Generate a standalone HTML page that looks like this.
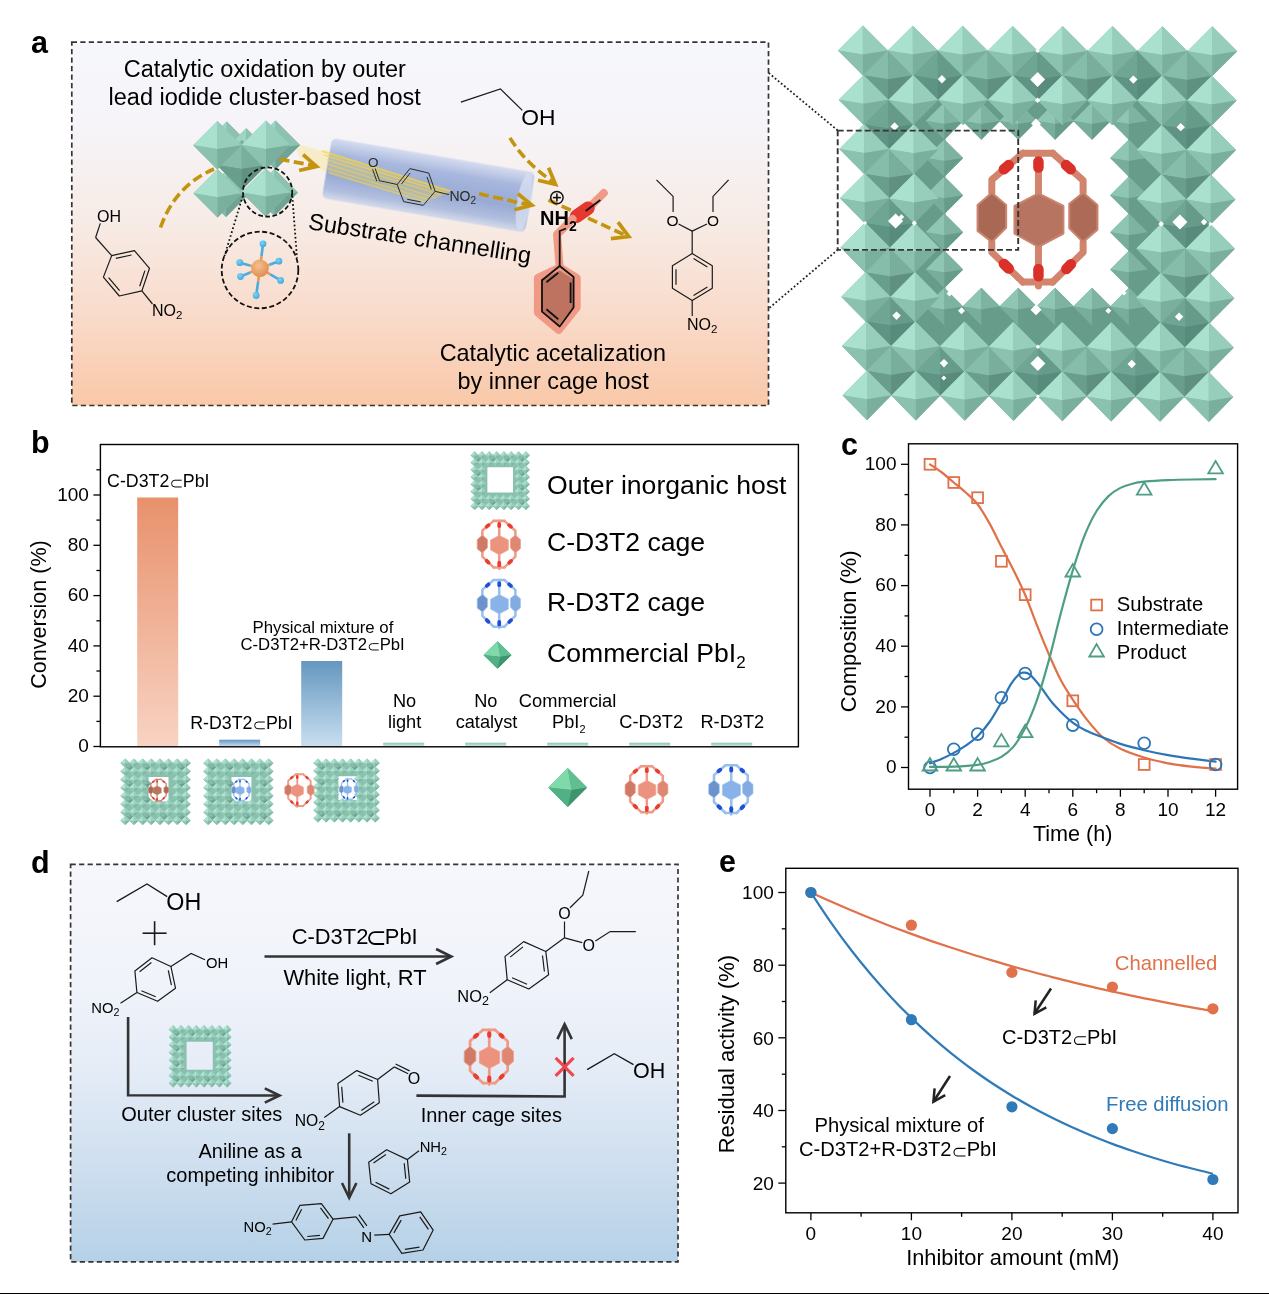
<!DOCTYPE html>
<html><head><meta charset="utf-8"><title>Figure</title>
<style>
html,body{margin:0;padding:0;background:#fff;}
body{width:1269px;height:1294px;overflow:hidden;font-family:"Liberation Sans",sans-serif;}
svg{display:block;will-change:transform;opacity:0.9999;}
svg text{font-family:"Liberation Sans",sans-serif;}
</style></head><body>
<svg width="1269" height="1294" viewBox="0 0 1269 1294">
<defs>
<linearGradient id="gA" x1="0" y1="0" x2="0" y2="1">
<stop offset="0" stop-color="#f6f7fc"/><stop offset="0.24" stop-color="#f6f4f8"/><stop offset="0.5" stop-color="#f7ebe5"/><stop offset="0.75" stop-color="#f9dbcb"/><stop offset="1" stop-color="#f9c8a8"/></linearGradient>
<linearGradient id="gCyl" x1="0" y1="0" x2="0" y2="1">
<stop offset="0" stop-color="#cfd8ee" stop-opacity="0.85"/><stop offset="0.25" stop-color="#a3b4dc" stop-opacity="0.95"/><stop offset="0.6" stop-color="#93a6d3" stop-opacity="0.95"/><stop offset="0.85" stop-color="#a9b9dd" stop-opacity="0.9"/><stop offset="1" stop-color="#cdd6ec" stop-opacity="0.8"/></linearGradient>
<radialGradient id="gPb" cx="0.4" cy="0.35" r="0.7"><stop offset="0" stop-color="#f6c08e"/><stop offset="1" stop-color="#dc8c4e"/></radialGradient>
<radialGradient id="gI" cx="0.4" cy="0.35" r="0.7"><stop offset="0" stop-color="#7fd3f4"/><stop offset="1" stop-color="#3aa6dc"/></radialGradient>
<filter id="blur2" x="-10%" y="-10%" width="120%" height="120%"><feGaussianBlur stdDeviation="1.6"/></filter>
<filter id="blur1" x="-10%" y="-10%" width="120%" height="120%"><feGaussianBlur stdDeviation="0.7"/></filter>

<g id="oc0"><polygon points="0,-1 1,0 0,1 -1,0" fill="#82b8a5"/><polygon points="0,-1 -1,0 0,0.16" fill="#9fd6c3"/><polygon points="0,-1 1,0 0,0.16" fill="#8cc2af"/><polygon points="0,1 -1,0 0,0.16" fill="#82b8a5"/><polygon points="0,1 1,0 0,0.16" fill="#70a492"/></g>
<g id="oc1"><polygon points="0,-1 1,0 0,1 -1,0" fill="#6a9e8c"/><polygon points="0,-1 -1,0 0,0.16" fill="#86bcaa"/><polygon points="0,-1 1,0 0,0.16" fill="#79ae9c"/><polygon points="0,1 -1,0 0,0.16" fill="#6a9e8c"/><polygon points="0,1 1,0 0,0.16" fill="#5f9080"/></g>
<g id="oc2"><polygon points="0,-1 1,0 0,1 -1,0" fill="#8bc1af"/><polygon points="0,-1 -1,0 0,0.16" fill="#aae1ce"/><polygon points="0,-1 1,0 0,0.16" fill="#97cdbb"/><polygon points="0,1 -1,0 0,0.16" fill="#8bc1af"/><polygon points="0,1 1,0 0,0.16" fill="#7aae9d"/></g>
<g id="oc3"><polygon points="0,-1 1,0 0,1 -1,0" fill="#77ad9a"/><polygon points="0,-1 -1,0 0,0.16" fill="#8fc6b3"/><polygon points="0,-1 1,0 0,0.16" fill="#7db3a0"/><polygon points="0,1 -1,0 0,0.16" fill="#77ad9a"/><polygon points="0,1 1,0 0,0.16" fill="#679b8a"/></g>
<g id="oc4"><polygon points="0,-1 1,0 0,1 -1,0" fill="#5f9383"/><polygon points="0,-1 -1,0 0,0.16" fill="#6fa593"/><polygon points="0,-1 1,0 0,0.16" fill="#669b8a"/><polygon points="0,1 -1,0 0,0.16" fill="#5f9383"/><polygon points="0,1 1,0 0,0.16" fill="#588b7b"/></g>
<linearGradient id="gB1" x1="0" y1="0" x2="0" y2="1"><stop offset="0" stop-color="#e8916c"/><stop offset="1" stop-color="#f8d3c3"/></linearGradient>
<linearGradient id="gB2" x1="0" y1="0" x2="0" y2="1"><stop offset="0" stop-color="#6597c0"/><stop offset="1" stop-color="#c9dff0"/></linearGradient>
<linearGradient id="gB3" x1="0" y1="0" x2="0" y2="1"><stop offset="0" stop-color="#8ec5b3"/><stop offset="1" stop-color="#cfe8df"/></linearGradient>

<g id="oc5"><polygon points="0,-1 1,0 0,1 -1,0" fill="#76ab99"/><polygon points="0,-1 -1,0 0,0.16" fill="#88bfac"/><polygon points="0,-1 1,0 0,0.16" fill="#7bb19f"/><polygon points="0,1 -1,0 0,0.16" fill="#76ab99"/><polygon points="0,1 1,0 0,0.16" fill="#6a9d8b"/></g>
<g id="oc6"><polygon points="0,-1 1,0 0,1 -1,0" fill="#92c8b6"/><polygon points="0,-1 -1,0 0,0.16" fill="#aee3d1"/><polygon points="0,-1 1,0 0,0.16" fill="#9bd0be"/><polygon points="0,1 -1,0 0,0.16" fill="#92c8b6"/><polygon points="0,1 1,0 0,0.16" fill="#80b6a4"/></g>
<linearGradient id="gD" x1="0" y1="0" x2="0" y2="1">
<stop offset="0" stop-color="#f6f7fc"/><stop offset="0.3" stop-color="#f0f3fa"/><stop offset="0.5" stop-color="#e6edf7"/><stop offset="0.75" stop-color="#cfdfef"/><stop offset="1" stop-color="#b5d1e7"/></linearGradient>
</defs>
<rect x="0" y="0" width="1269" height="1294" fill="#fff"/>
<text x="31.0" y="53.0" font-size="30.5" text-anchor="start" font-weight="bold" fill="#000" >a</text>
<rect x="71.8" y="42.2" width="696.7" height="363.3" fill="url(#gA)"/>
<rect x="71.8" y="42.2" width="696.7" height="363.3" fill="none" stroke="#383434" stroke-width="1.7" stroke-dasharray="5.2,3.3"/>
<text x="264.8" y="77.0" font-size="23.5" text-anchor="middle" font-weight="normal" fill="#000" >Catalytic oxidation by outer</text>
<text x="264.7" y="105.0" font-size="23.5" text-anchor="middle" font-weight="normal" fill="#000" >lead iodide cluster-based host</text>
<text x="552.8" y="361.3" font-size="23.4" text-anchor="middle" font-weight="normal" fill="#000" >Catalytic acetalization</text>
<text x="553.2" y="389.0" font-size="23.4" text-anchor="middle" font-weight="normal" fill="#000" >by inner cage host</text>
<path d="M160.5,227.5 C170,200 188,180 214,169" stroke="#c4940f" stroke-width="3.6" fill="none" stroke-dasharray="10,4.5"/>
<polygon points="294.0,143.0 340.0,156.0 333.0,176.0 300.0,158.0" fill="#f8e27a" stroke="none" stroke-width="0" opacity="0.35"/>
<use href="#oc0" transform="translate(226.7,145.5) scale(24.00,24.00)"/>
<use href="#oc0" transform="translate(275.5,145.0) scale(24.50,24.50)"/>
<use href="#oc0" transform="translate(226.0,194.0) scale(23.00,23.00)"/>
<use href="#oc0" transform="translate(274.5,192.5) scale(23.50,23.50)"/>
<use href="#oc0" transform="translate(246.2,152.0) scale(23.70,23.70)"/>
<use href="#oc1" transform="translate(241.8,165.0) scale(25.00,25.00)"/>
<use href="#oc2" transform="translate(217.4,145.2) scale(24.20,24.20)"/>
<use href="#oc2" transform="translate(266.0,145.0) scale(24.50,24.50)"/>
<use href="#oc2" transform="translate(217.6,193.3) scale(24.20,24.20)"/>
<use href="#oc2" transform="translate(265.8,192.5) scale(24.30,24.30)"/>
<g transform="translate(427,185.1) rotate(9.66)">
<rect x="-101.5" y="-30.5" width="206" height="61" rx="5" fill="url(#gCyl)" filter="url(#blur1)"/>
<ellipse cx="98.5" cy="0" rx="7" ry="29" fill="#d6def0" opacity="0.8" filter="url(#blur1)"/>
</g>
<polygon points="330.0,152.5 450.0,190.5 447.0,194.0 424.0,202.5 328.0,174.0" fill="#f6d848" stroke="none" stroke-width="0" opacity="0.28"/>
<g opacity="0.62">
<line x1="322.0" y1="151.0" x2="450.0" y2="191.0" stroke="#f7d53c" stroke-width="2.0" />
<line x1="324.0" y1="155.0" x2="446.0" y2="193.0" stroke="#f7d53c" stroke-width="1.5" />
<line x1="326.0" y1="159.5" x2="441.0" y2="195.0" stroke="#f7d53c" stroke-width="1.2" />
<line x1="327.0" y1="164.0" x2="436.0" y2="198.0" stroke="#f7d53c" stroke-width="1.2" />
<line x1="328.0" y1="168.5" x2="430.0" y2="200.0" stroke="#f7d53c" stroke-width="1.0" />
<line x1="329.0" y1="172.5" x2="424.0" y2="201.5" stroke="#f7d53c" stroke-width="1.0" />
</g>
<circle cx="267.6" cy="192" r="24.6" fill="none" stroke="#111" stroke-width="1.8" stroke-dasharray="4.6,2.6"/>
<line x1="242.8" y1="196.0" x2="224.5" y2="256.0" stroke="#111" stroke-width="1.8" stroke-dasharray="1.7,2.4"/>
<line x1="292.3" y1="196.0" x2="297.0" y2="258.0" stroke="#111" stroke-width="1.8" stroke-dasharray="1.7,2.4"/>
<circle cx="260" cy="270" r="38.3" fill="none" stroke="#111" stroke-width="1.8" stroke-dasharray="5,2.6"/>
<line x1="260.0" y1="268.3" x2="261.5" y2="256.1" stroke="#e29a5e" stroke-width="2.6" />
<line x1="261.5" y1="256.1" x2="263.0" y2="243.8" stroke="#46ade0" stroke-width="2.6" />
<circle cx="263" cy="243.8" r="3.4" fill="url(#gI)"/>
<line x1="260.0" y1="268.3" x2="249.9" y2="265.5" stroke="#e29a5e" stroke-width="2.6" />
<line x1="249.9" y1="265.5" x2="239.8" y2="262.7" stroke="#46ade0" stroke-width="2.6" />
<circle cx="239.8" cy="262.7" r="3.4" fill="url(#gI)"/>
<line x1="260.0" y1="268.3" x2="269.4" y2="264.8" stroke="#e29a5e" stroke-width="2.6" />
<line x1="269.4" y1="264.8" x2="278.9" y2="261.2" stroke="#46ade0" stroke-width="2.6" />
<circle cx="278.9" cy="261.2" r="3.4" fill="url(#gI)"/>
<line x1="260.0" y1="268.3" x2="250.2" y2="272.5" stroke="#e29a5e" stroke-width="2.6" />
<line x1="250.2" y1="272.5" x2="240.5" y2="276.6" stroke="#46ade0" stroke-width="2.6" />
<circle cx="240.5" cy="276.6" r="3.4" fill="url(#gI)"/>
<line x1="260.0" y1="268.3" x2="270.3" y2="274.4" stroke="#e29a5e" stroke-width="2.6" />
<line x1="270.3" y1="274.4" x2="280.6" y2="280.4" stroke="#46ade0" stroke-width="2.6" />
<circle cx="280.6" cy="280.4" r="3.4" fill="url(#gI)"/>
<line x1="260.0" y1="268.3" x2="258.1" y2="281.9" stroke="#e29a5e" stroke-width="2.6" />
<line x1="258.1" y1="281.9" x2="256.2" y2="295.5" stroke="#46ade0" stroke-width="2.6" />
<circle cx="256.2" cy="295.5" r="3.4" fill="url(#gI)"/>
<circle cx="260" cy="268.3" r="8.8" fill="url(#gPb)"/>
<path d="M279.5,159.3 L314,165.5" stroke="#c4940f" stroke-width="3.6" fill="none" stroke-dasharray="10,4.5"/>
<path d="M299.1,170.5 L316.6,166.4 L303.1,154.6" stroke="#c4940f" stroke-width="3.7" fill="none" stroke-linejoin="miter" stroke-miterlimit="10" stroke-linecap="butt"/>
<path d="M479,193.8 L530,205" stroke="#c4940f" stroke-width="3.6" fill="none" stroke-dasharray="10,4.5"/>
<path d="M514.5,209.7 L531.9,205.1 L517.9,193.7" stroke="#c4940f" stroke-width="3.7" fill="none" stroke-linejoin="miter" stroke-miterlimit="10" stroke-linecap="butt"/>
<path d="M510,137.8 C522,158 538,171 554.5,183.5" stroke="#c4940f" stroke-width="3.6" fill="none" stroke-dasharray="10,4.5"/>
<path d="M538.0,180.2 L555.5,184.4 L548.6,167.7" stroke="#c4940f" stroke-width="3.7" fill="none" stroke-linejoin="miter" stroke-miterlimit="10" stroke-linecap="butt"/>
<path d="M548.5,200 L626.5,235.8" stroke="#c4940f" stroke-width="3.6" fill="none" stroke-dasharray="10,4.5"/>
<path d="M610.9,238.7 L628.8,236.6 L618.0,222.2" stroke="#c4940f" stroke-width="3.7" fill="none" stroke-linejoin="miter" stroke-miterlimit="10" stroke-linecap="butt"/>
<text x="97.0" y="221.6" font-size="16" text-anchor="start" font-weight="normal" fill="#000" >OH</text>
<line x1="100.3" y1="223.4" x2="95.6" y2="237.5" stroke="#1a1a1a" stroke-width="1.2" />
<line x1="95.6" y1="237.5" x2="111.7" y2="255.6" stroke="#1a1a1a" stroke-width="1.2" />
<path d="M111.7,255.6 L134.4,250.6 L149.5,268.3 L141.9,290.9 L119.3,296.0 L103.4,277.1 Z" stroke="#1a1a1a" stroke-width="1.2" fill="none" stroke-linejoin="round"/>
<line x1="115.9" y1="258.4" x2="131.5" y2="255.0" stroke="#1a1a1a" stroke-width="1.2" />
<line x1="144.9" y1="270.6" x2="139.7" y2="286.2" stroke="#1a1a1a" stroke-width="1.2" />
<line x1="119.6" y1="290.6" x2="108.6" y2="277.6" stroke="#1a1a1a" stroke-width="1.2" />
<line x1="141.9" y1="290.9" x2="152.5" y2="304.0" stroke="#1a1a1a" stroke-width="1.2" />
<text x="152.0" y="315.7" font-size="16" text-anchor="start" font-weight="normal" fill="#000" >NO<tspan dy="3.2" font-size="11.5">2</tspan><tspan dy="-3.2" font-size="16">&#8203;</tspan></text>
<text x="373.3" y="166.5" font-size="13.5" text-anchor="middle" font-weight="normal" fill="#2a2a20" >O</text>
<line x1="375.2" y1="168.6" x2="379.4" y2="180.4" stroke="#2a2a20" stroke-width="1.0" />
<line x1="372.6" y1="169.4" x2="376.8" y2="181.2" stroke="#2a2a20" stroke-width="1.0" />
<line x1="378.8" y1="180.6" x2="397.2" y2="184.5" stroke="#2a2a20" stroke-width="1.0" />
<path d="M397.2,184.5 L409.9,168.6 L428.8,173.1 L435.1,191.3 L423.2,205.4 L403.6,201.6 Z" stroke="#2a2a20" stroke-width="1.0" fill="none" stroke-linejoin="round"/>
<line x1="401.5" y1="184.0" x2="410.2" y2="173.0" stroke="#2a2a20" stroke-width="1.0" />
<line x1="427.0" y1="176.9" x2="431.3" y2="189.4" stroke="#2a2a20" stroke-width="1.0" />
<line x1="420.7" y1="201.9" x2="407.2" y2="199.3" stroke="#2a2a20" stroke-width="1.0" />
<line x1="435.1" y1="191.3" x2="448.9" y2="194.6" stroke="#2a2a20" stroke-width="1.0" />
<text x="449.4" y="201.0" font-size="14" text-anchor="start" font-weight="normal" fill="#2a2a20" >NO<tspan dy="2.8" font-size="10.1">2</tspan><tspan dy="-2.8" font-size="14">&#8203;</tspan></text>
<path d="M460.9,102.1 L500.4,88.9 L522.3,110.4" stroke="#1a1a1a" stroke-width="1.3" fill="none" />
<text x="521.3" y="124.8" font-size="22.8" text-anchor="start" font-weight="normal" fill="#000" >OH</text>
<text transform="translate(307.5,229) rotate(8.8)" font-size="23.4" fill="#000">Substrate channelling</text>
<path d="M603.8,193 L589.9,206.8" stroke="#f09a86" stroke-width="8" fill="none" stroke-linecap="round"/>
<path d="M589.9,206.8 L572.6,219" stroke="#f09a86" stroke-width="8" fill="none" stroke-linecap="round"/>
<path d="M588,208.2 L576.5,216.3" stroke="#e5382f" stroke-width="13.5" fill="none" stroke-linecap="round"/>
<path d="M572.6,219 L557,234.6 L559.7,267.5" stroke="#f09a86" stroke-width="8" fill="none" stroke-linecap="round" stroke-linejoin="round"/>
<polygon points="559.7,267.5 576.7,277.9 576.7,307.4 558.7,329.9 537.9,312.6 537.9,277.9" fill="#bf7460" stroke="#f09a86" stroke-width="8" stroke-linejoin="round"/>
<polygon points="559.7,270.5 573.8,279.5 573.8,306.5 558.7,325.5 541.0,311.0 541.0,279.5" fill="#bd735f" stroke="none" stroke-width="0" />
<path d="M559.7,266.0 L573.6,277.0 L573.6,307.5 L559.7,326.5 L542.0,311.6 L542.0,280.3 Z" stroke="#111" stroke-width="1.8" fill="none" stroke-linejoin="round"/>
<line x1="570.6" y1="282.5" x2="570.6" y2="303.0" stroke="#111" stroke-width="1.8" />
<line x1="558.3" y1="319.2" x2="546.4" y2="309.2" stroke="#111" stroke-width="1.8" />
<line x1="546.4" y1="282.3" x2="558.3" y2="272.7" stroke="#111" stroke-width="1.8" />
<path d="M559.7,266 L559.7,231 L566,228.5" stroke="#111" stroke-width="1.8" fill="none" />
<line x1="585.7" y1="211.0" x2="600.3" y2="200.0" stroke="#111" stroke-width="1.8" />
<circle cx="556.9" cy="197.6" r="6.2" fill="none" stroke="#111" stroke-width="1.5"/>
<line x1="552.9" y1="197.6" x2="560.9" y2="197.6" stroke="#111" stroke-width="1.6" />
<line x1="556.9" y1="193.6" x2="556.9" y2="201.6" stroke="#111" stroke-width="1.6" />
<text x="540.0" y="225.3" font-size="20" text-anchor="start" font-weight="bold" fill="#000" >NH<tspan dy="5.5" font-size="14.0">2</tspan><tspan dy="-5.5" font-size="20">&#8203;</tspan></text>
<path d="M656.5,179.8 L673.1,196.4 L673.1,212" stroke="#1a1a1a" stroke-width="1.2" fill="none" />
<path d="M728.6,179.8 L713,196.4 L713,212" stroke="#1a1a1a" stroke-width="1.2" fill="none" />
<text x="672.6" y="225.6" font-size="15.5" text-anchor="middle" font-weight="normal" fill="#000" >O</text>
<text x="713.0" y="225.6" font-size="15.5" text-anchor="middle" font-weight="normal" fill="#000" >O</text>
<line x1="678.5" y1="224.0" x2="692.2" y2="231.1" stroke="#1a1a1a" stroke-width="1.2" />
<line x1="707.0" y1="224.0" x2="692.2" y2="231.1" stroke="#1a1a1a" stroke-width="1.2" />
<line x1="692.2" y1="231.1" x2="692.2" y2="253.6" stroke="#1a1a1a" stroke-width="1.2" />
<path d="M692.2,253.6 L712.3,265.8 L712.3,288.3 L692.2,300.5 L672.4,288.3 L672.4,265.8 Z" stroke="#1a1a1a" stroke-width="1.2" fill="none" stroke-linejoin="round"/>
<line x1="693.5" y1="258.6" x2="707.4" y2="267.0" stroke="#1a1a1a" stroke-width="1.2" />
<line x1="707.4" y1="287.1" x2="693.5" y2="295.5" stroke="#1a1a1a" stroke-width="1.2" />
<line x1="676.0" y1="284.8" x2="676.0" y2="269.3" stroke="#1a1a1a" stroke-width="1.2" />
<line x1="692.2" y1="300.5" x2="692.2" y2="316.0" stroke="#1a1a1a" stroke-width="1.2" />
<text x="687.0" y="330.0" font-size="16" text-anchor="start" font-weight="normal" fill="#000" >NO<tspan dy="3.2" font-size="11.5">2</tspan><tspan dy="-3.2" font-size="16">&#8203;</tspan></text>
<line x1="768.7" y1="73.0" x2="837.5" y2="130.2" stroke="#222" stroke-width="1.8" stroke-dasharray="1.8,2.2"/>
<line x1="769.5" y1="307.8" x2="837.5" y2="250.0" stroke="#222" stroke-width="1.8" stroke-dasharray="1.8,2.2"/>
<path d="M885,72 H1191 V375 H885 Z M945.5,122 V306 H1128 V122 Z" fill="#679c8b" fill-rule="evenodd"/>
<use href="#oc3" transform="translate(944.4,121.0) scale(18.70,18.70)"/>
<use href="#oc3" transform="translate(981.3,121.0) scale(18.70,18.70)"/>
<use href="#oc3" transform="translate(1018.2,121.0) scale(18.70,18.70)"/>
<use href="#oc3" transform="translate(1055.1,121.0) scale(18.70,18.70)"/>
<use href="#oc3" transform="translate(1092.0,121.0) scale(18.70,18.70)"/>
<use href="#oc3" transform="translate(1128.9,121.0) scale(18.70,18.70)"/>
<use href="#oc3" transform="translate(944.4,158.1) scale(18.70,18.70)"/>
<use href="#oc3" transform="translate(1128.9,158.1) scale(18.70,18.70)"/>
<use href="#oc3" transform="translate(944.4,195.2) scale(18.70,18.70)"/>
<use href="#oc3" transform="translate(1128.9,195.2) scale(18.70,18.70)"/>
<use href="#oc3" transform="translate(944.4,232.3) scale(18.70,18.70)"/>
<use href="#oc3" transform="translate(1128.9,232.3) scale(18.70,18.70)"/>
<use href="#oc3" transform="translate(944.4,269.4) scale(18.70,18.70)"/>
<use href="#oc3" transform="translate(1128.9,269.4) scale(18.70,18.70)"/>
<use href="#oc3" transform="translate(944.4,306.5) scale(18.70,18.70)"/>
<use href="#oc3" transform="translate(981.3,306.5) scale(18.70,18.70)"/>
<use href="#oc3" transform="translate(1018.2,306.5) scale(18.70,18.70)"/>
<use href="#oc3" transform="translate(1055.1,306.5) scale(18.70,18.70)"/>
<use href="#oc3" transform="translate(1092.0,306.5) scale(18.70,18.70)"/>
<use href="#oc3" transform="translate(1128.9,306.5) scale(18.70,18.70)"/>
<use href="#oc1" transform="translate(888.1,75.2) scale(25.50,25.50)"/>
<use href="#oc4" transform="translate(937.9,75.3) scale(25.50,25.50)"/>
<polygon points="941.9,75.1 946.1,79.2 941.9,83.4 937.8,79.2" fill="#ffffff" stroke="none" stroke-width="0" />
<use href="#oc1" transform="translate(987.8,75.4) scale(25.50,25.50)"/>
<use href="#oc4" transform="translate(1037.6,75.5) scale(25.50,25.50)"/>
<polygon points="1037.6,71.9 1045.1,79.4 1037.6,86.9 1030.1,79.4" fill="#ffffff" stroke="none" stroke-width="0" />
<use href="#oc1" transform="translate(1087.5,75.6) scale(25.50,25.50)"/>
<use href="#oc4" transform="translate(1137.3,75.7) scale(25.50,25.50)"/>
<polygon points="1133.3,75.5 1137.5,79.6 1133.3,83.8 1129.1,79.6" fill="#ffffff" stroke="none" stroke-width="0" />
<use href="#oc1" transform="translate(1187.1,75.8) scale(25.50,25.50)"/>
<use href="#oc4" transform="translate(888.6,124.5) scale(25.50,25.50)"/>
<polygon points="894.6,122.3 898.7,126.4 894.6,130.6 890.4,126.4" fill="#ffffff" stroke="none" stroke-width="0" />
<use href="#oc4" transform="translate(1186.7,125.2) scale(25.50,25.50)"/>
<polygon points="1180.7,123.0 1184.9,127.2 1180.7,131.3 1176.6,127.2" fill="#ffffff" stroke="none" stroke-width="0" />
<use href="#oc1" transform="translate(889.1,173.7) scale(25.50,25.50)"/>
<use href="#oc1" transform="translate(1186.3,174.6) scale(25.50,25.50)"/>
<use href="#oc4" transform="translate(889.6,223.0) scale(25.50,25.50)"/>
<polygon points="895.6,213.5 903.1,221.0 895.6,228.5 888.0,221.0" fill="#ffffff" stroke="none" stroke-width="0" />
<use href="#oc4" transform="translate(1185.9,224.0) scale(25.50,25.50)"/>
<polygon points="1179.9,214.5 1187.4,222.0 1179.9,229.5 1172.4,222.0" fill="#ffffff" stroke="none" stroke-width="0" />
<use href="#oc1" transform="translate(890.1,272.3) scale(25.50,25.50)"/>
<use href="#oc1" transform="translate(1185.4,273.4) scale(25.50,25.50)"/>
<use href="#oc4" transform="translate(890.7,321.5) scale(25.50,25.50)"/>
<polygon points="896.5,311.4 900.8,315.6 896.5,319.9 892.3,315.6" fill="#ffffff" stroke="none" stroke-width="0" />
<use href="#oc4" transform="translate(1185.0,322.8) scale(25.50,25.50)"/>
<polygon points="1179.1,312.6 1183.3,316.8 1179.1,321.0 1174.9,316.8" fill="#ffffff" stroke="none" stroke-width="0" />
<use href="#oc1" transform="translate(891.2,370.8) scale(25.50,25.50)"/>
<use href="#oc4" transform="translate(940.1,371.0) scale(25.50,25.50)"/>
<polygon points="944.0,358.9 948.2,363.1 944.0,367.4 939.7,363.1" fill="#ffffff" stroke="none" stroke-width="0" />
<use href="#oc1" transform="translate(989.0,371.3) scale(25.50,25.50)"/>
<use href="#oc4" transform="translate(1037.9,371.5) scale(25.50,25.50)"/>
<polygon points="1037.9,356.1 1045.4,363.6 1037.9,371.1 1030.4,363.6" fill="#ffffff" stroke="none" stroke-width="0" />
<use href="#oc1" transform="translate(1086.8,371.7) scale(25.50,25.50)"/>
<use href="#oc4" transform="translate(1135.7,372.0) scale(25.50,25.50)"/>
<polygon points="1131.8,359.8 1136.0,364.0 1131.8,368.2 1127.6,364.0" fill="#ffffff" stroke="none" stroke-width="0" />
<use href="#oc1" transform="translate(1184.6,372.2) scale(25.50,25.50)"/>
<use href="#oc2" transform="translate(862.9,50.5) scale(24.90,24.90)"/>
<use href="#oc2" transform="translate(912.8,50.6) scale(24.90,24.90)"/>
<use href="#oc2" transform="translate(962.7,50.7) scale(24.90,24.90)"/>
<use href="#oc2" transform="translate(1012.6,50.8) scale(24.90,24.90)"/>
<use href="#oc2" transform="translate(1062.6,50.9) scale(24.90,24.90)"/>
<use href="#oc2" transform="translate(1112.5,51.0) scale(24.90,24.90)"/>
<use href="#oc2" transform="translate(1162.4,51.1) scale(24.90,24.90)"/>
<use href="#oc2" transform="translate(1212.3,51.2) scale(24.90,24.90)"/>
<use href="#oc2" transform="translate(863.5,99.8) scale(24.84,24.90)"/>
<use href="#oc2" transform="translate(913.2,99.9) scale(24.84,24.90)"/>
<use href="#oc2" transform="translate(963.0,100.0) scale(24.84,24.90)"/>
<use href="#oc2" transform="translate(1012.8,100.1) scale(24.84,24.90)"/>
<use href="#oc2" transform="translate(1062.5,100.2) scale(24.84,24.90)"/>
<use href="#oc2" transform="translate(1112.3,100.4) scale(24.84,24.90)"/>
<use href="#oc2" transform="translate(1162.0,100.5) scale(24.84,24.90)"/>
<use href="#oc2" transform="translate(1211.8,100.6) scale(24.84,24.90)"/>
<use href="#oc2" transform="translate(864.1,149.0) scale(24.78,24.90)"/>
<use href="#oc2" transform="translate(913.7,149.2) scale(24.78,24.90)"/>
<use href="#oc2" transform="translate(1161.7,149.9) scale(24.78,24.90)"/>
<use href="#oc2" transform="translate(1211.3,150.0) scale(24.78,24.90)"/>
<use href="#oc2" transform="translate(864.7,198.3) scale(24.72,24.90)"/>
<use href="#oc2" transform="translate(914.1,198.4) scale(24.72,24.90)"/>
<use href="#oc2" transform="translate(1161.4,199.2) scale(24.72,24.90)"/>
<use href="#oc2" transform="translate(1210.8,199.4) scale(24.72,24.90)"/>
<use href="#oc2" transform="translate(865.2,247.5) scale(24.66,24.90)"/>
<use href="#oc2" transform="translate(914.5,247.7) scale(24.66,24.90)"/>
<use href="#oc2" transform="translate(1161.0,248.6) scale(24.66,24.90)"/>
<use href="#oc2" transform="translate(1210.3,248.8) scale(24.66,24.90)"/>
<use href="#oc2" transform="translate(865.8,296.8) scale(24.60,24.90)"/>
<use href="#oc2" transform="translate(915.0,297.0) scale(24.60,24.90)"/>
<use href="#oc2" transform="translate(1160.7,298.0) scale(24.60,24.90)"/>
<use href="#oc2" transform="translate(1209.8,298.2) scale(24.60,24.90)"/>
<use href="#oc2" transform="translate(866.4,346.1) scale(24.54,24.90)"/>
<use href="#oc2" transform="translate(915.4,346.3) scale(24.54,24.90)"/>
<use href="#oc2" transform="translate(964.4,346.5) scale(24.54,24.90)"/>
<use href="#oc2" transform="translate(1013.4,346.7) scale(24.54,24.90)"/>
<use href="#oc2" transform="translate(1062.3,346.9) scale(24.54,24.90)"/>
<use href="#oc2" transform="translate(1111.3,347.2) scale(24.54,24.90)"/>
<use href="#oc2" transform="translate(1160.3,347.4) scale(24.54,24.90)"/>
<use href="#oc2" transform="translate(1209.3,347.6) scale(24.54,24.90)"/>
<use href="#oc2" transform="translate(867.0,395.3) scale(24.48,24.90)"/>
<use href="#oc2" transform="translate(915.8,395.6) scale(24.48,24.90)"/>
<use href="#oc2" transform="translate(964.7,395.8) scale(24.48,24.90)"/>
<use href="#oc2" transform="translate(1013.5,396.0) scale(24.48,24.90)"/>
<use href="#oc2" transform="translate(1062.3,396.3) scale(24.48,24.90)"/>
<use href="#oc2" transform="translate(1111.1,396.5) scale(24.48,24.90)"/>
<use href="#oc2" transform="translate(1160.0,396.8) scale(24.48,24.90)"/>
<use href="#oc2" transform="translate(1208.8,397.0) scale(24.48,24.90)"/>
<polygon points="1037.6,48.6 1039.8,50.9 1037.6,53.1 1035.4,50.9" fill="#ffffff" stroke="none" stroke-width="0" />
<polygon points="1037.6,97.4 1040.4,100.2 1037.6,103.0 1034.8,100.2" fill="#ffffff" stroke="none" stroke-width="0" />
<polygon points="1037.9,344.6 1040.1,346.8 1037.9,349.0 1035.7,346.8" fill="#ffffff" stroke="none" stroke-width="0" />
<polygon points="1037.9,394.2 1039.9,396.2 1037.9,398.2 1035.9,396.2" fill="#ffffff" stroke="none" stroke-width="0" />
<polygon points="865.0,220.9 867.0,222.9 865.0,224.9 863.0,222.9" fill="#ffffff" stroke="none" stroke-width="0" />
<polygon points="914.3,220.5 916.9,223.1 914.3,225.7 911.7,223.1" fill="#ffffff" stroke="none" stroke-width="0" />
<polygon points="1161.2,221.1 1164.0,223.9 1161.2,226.7 1158.4,223.9" fill="#ffffff" stroke="none" stroke-width="0" />
<polygon points="1210.5,221.9 1212.8,224.1 1210.5,226.3 1208.3,224.1" fill="#ffffff" stroke="none" stroke-width="0" />
<polygon points="1036.0,118.5 1041.0,123.5 1036.0,128.5 1031.0,123.5" fill="#ffffff" stroke="none" stroke-width="0" />
<polygon points="1036.0,304.3 1041.5,309.8 1036.0,315.3 1030.5,309.8" fill="#ffffff" stroke="none" stroke-width="0" />
<polygon points="961.5,307.3 965.0,310.8 961.5,314.3 958.0,310.8" fill="#ffffff" stroke="none" stroke-width="0" />
<polygon points="1108.4,307.8 1111.4,310.8 1108.4,313.8 1105.4,310.8" fill="#ffffff" stroke="none" stroke-width="0" />
<polygon points="949.5,290.5 952.5,293.5 949.5,296.5 946.5,293.5" fill="#ffffff" stroke="none" stroke-width="0" />
<polygon points="1124.0,290.5 1126.5,293.0 1124.0,295.5 1121.5,293.0" fill="#ffffff" stroke="none" stroke-width="0" />
<polygon points="901.4,214.2 904.2,217.0 901.4,219.8 898.6,217.0" fill="#ffffff" stroke="none" stroke-width="0" />
<polygon points="1204.0,218.8 1207.2,222.0 1204.0,225.2 1200.8,222.0" fill="#ffffff" stroke="none" stroke-width="0" />
<polygon points="943.8,375.5 946.3,378.0 943.8,380.5 941.3,378.0" fill="#ffffff" stroke="none" stroke-width="0" />
<path d="M1022.91,153.20 L1052.69,153.20" stroke="#d3846d" stroke-width="6.99" fill="none" stroke-linecap="round" stroke-linejoin="round"/>
<path d="M1022.91,282.06 L1052.69,282.06" stroke="#d3846d" stroke-width="6.99" fill="none" stroke-linecap="round" stroke-linejoin="round"/>
<path d="M1022.91,153.20 L991.82,179.75 L991.82,192.70" stroke="#d3846d" stroke-width="6.99" fill="none" stroke-linecap="round" stroke-linejoin="round"/>
<path d="M1052.69,153.20 L1083.13,180.39 L1083.13,192.70" stroke="#d3846d" stroke-width="6.99" fill="none" stroke-linecap="round" stroke-linejoin="round"/>
<path d="M991.82,241.91 L991.82,252.27 L1022.91,282.06" stroke="#d3846d" stroke-width="6.99" fill="none" stroke-linecap="round" stroke-linejoin="round"/>
<path d="M1083.13,241.91 L1083.13,252.27 L1052.69,282.06" stroke="#d3846d" stroke-width="6.99" fill="none" stroke-linecap="round" stroke-linejoin="round"/>
<path d="M1038.45,153.20 L1038.45,193.34" stroke="#d3846d" stroke-width="6.99" fill="none" stroke-linecap="round" stroke-linejoin="round"/>
<path d="M1038.45,246.83 L1038.45,285.95" stroke="#d3846d" stroke-width="6.99" fill="none" stroke-linecap="round" stroke-linejoin="round"/>
<polygon points="991.8,192.7 1006.1,205.0 1006.1,227.7 991.8,241.9 977.6,230.9 977.6,205.0" fill="#a96853" stroke="#c98470" stroke-width="2.072216216216216" stroke-linejoin="round"/>
<polygon points="1083.1,192.7 1097.4,205.0 1097.4,229.6 1083.1,241.9 1069.3,228.3 1069.3,203.7" fill="#ad6b57" stroke="#c98470" stroke-width="2.072216216216216" stroke-linejoin="round"/>
<polygon points="1038.4,193.3 1063.4,206.0 1063.4,233.5 1038.4,246.8 1014.5,233.5 1014.5,206.0" fill="#b77460" stroke="#c98470" stroke-width="2.072216216216216" stroke-linejoin="round"/>
<line x1="1038.45" y1="161.61" x2="1038.45" y2="167.44" stroke="#d9302a" stroke-width="10.49" stroke-linecap="round"/>
<line x1="1038.45" y1="269.11" x2="1038.45" y2="276.23" stroke="#d9302a" stroke-width="10.49" stroke-linecap="round"/>
<line x1="1003.87" y1="169.26" x2="1008.79" y2="165.11" stroke="#d9302a" stroke-width="10.49" stroke-linecap="round"/>
<line x1="1066.03" y1="165.11" x2="1070.70" y2="169.26" stroke="#d9302a" stroke-width="10.49" stroke-linecap="round"/>
<line x1="1003.87" y1="263.93" x2="1008.79" y2="268.59" stroke="#d9302a" stroke-width="10.49" stroke-linecap="round"/>
<line x1="1066.29" y1="269.11" x2="1070.96" y2="264.19" stroke="#d9302a" stroke-width="10.49" stroke-linecap="round"/>
<rect x="837.7" y="130.6" width="180.5" height="119.3" fill="none" stroke="#383434" stroke-width="1.9" stroke-dasharray="6,3"/>
<text x="31.0" y="453.0" font-size="30.5" text-anchor="start" font-weight="bold" fill="#000" >b</text>
<rect x="137.2" y="497.5" width="41" height="249.0" fill="url(#gB1)"/>
<rect x="219.2" y="739.7" width="41" height="6.8" fill="url(#gB2)"/>
<rect x="301.2" y="661.0" width="41" height="85.5" fill="url(#gB2)"/>
<rect x="383.2" y="742.7" width="41" height="3.8" fill="url(#gB3)"/>
<rect x="465.2" y="742.7" width="41" height="3.8" fill="url(#gB3)"/>
<rect x="547.2" y="742.7" width="41" height="3.8" fill="url(#gB3)"/>
<rect x="629.2" y="742.7" width="41" height="3.8" fill="url(#gB3)"/>
<rect x="711.2" y="742.7" width="41" height="3.8" fill="url(#gB3)"/>
<rect x="100.4" y="444.5" width="698.0" height="302.3" fill="none" stroke="#000" stroke-width="1.4"/>
<line x1="93.4" y1="746.5" x2="100.4" y2="746.5" stroke="#000" stroke-width="1.3" />
<text x="88.9" y="752.1" font-size="19" text-anchor="end" font-weight="normal" fill="#000" >0</text>
<line x1="96.4" y1="721.4" x2="100.4" y2="721.4" stroke="#000" stroke-width="1.3" />
<line x1="93.4" y1="696.2" x2="100.4" y2="696.2" stroke="#000" stroke-width="1.3" />
<text x="88.9" y="701.8" font-size="19" text-anchor="end" font-weight="normal" fill="#000" >20</text>
<line x1="96.4" y1="671.0" x2="100.4" y2="671.0" stroke="#000" stroke-width="1.3" />
<line x1="93.4" y1="645.9" x2="100.4" y2="645.9" stroke="#000" stroke-width="1.3" />
<text x="88.9" y="651.5" font-size="19" text-anchor="end" font-weight="normal" fill="#000" >40</text>
<line x1="96.4" y1="620.8" x2="100.4" y2="620.8" stroke="#000" stroke-width="1.3" />
<line x1="93.4" y1="595.6" x2="100.4" y2="595.6" stroke="#000" stroke-width="1.3" />
<text x="88.9" y="601.2" font-size="19" text-anchor="end" font-weight="normal" fill="#000" >60</text>
<line x1="96.4" y1="570.5" x2="100.4" y2="570.5" stroke="#000" stroke-width="1.3" />
<line x1="93.4" y1="545.3" x2="100.4" y2="545.3" stroke="#000" stroke-width="1.3" />
<text x="88.9" y="550.9" font-size="19" text-anchor="end" font-weight="normal" fill="#000" >80</text>
<line x1="96.4" y1="520.1" x2="100.4" y2="520.1" stroke="#000" stroke-width="1.3" />
<line x1="93.4" y1="495.0" x2="100.4" y2="495.0" stroke="#000" stroke-width="1.3" />
<text x="88.9" y="500.6" font-size="19" text-anchor="end" font-weight="normal" fill="#000" >100</text>
<line x1="96.4" y1="469.8" x2="100.4" y2="469.8" stroke="#000" stroke-width="1.3" />
<text transform="translate(46.4,614.5) rotate(-90)" font-size="21.55" text-anchor="middle">Conversion (%)</text>
<text x="107.1" y="486.8" font-size="17.8" text-anchor="start" font-weight="normal" fill="#000" >C-D3T2</text>
<path d="M181.70,480.21 H174.94 A3.38,3.38 0 0 0 174.94,486.98 H181.70" stroke="#000" stroke-width="0.9790000000000001" fill="none" />
<text x="182.8" y="486.8" font-size="17.8" text-anchor="start" font-weight="normal" fill="#000" >PbI</text>
<text x="190.2" y="728.6" font-size="17.8" text-anchor="start" font-weight="normal" fill="#000" >R-D3T2</text>
<path d="M264.80,722.01 H258.04 A3.38,3.38 0 0 0 258.04,728.78 H264.80" stroke="#000" stroke-width="0.9790000000000001" fill="none" />
<text x="265.9" y="728.6" font-size="17.8" text-anchor="start" font-weight="normal" fill="#000" >PbI</text>
<text x="322.9" y="633.1" font-size="16.8" text-anchor="middle" font-weight="normal" fill="#000" >Physical mixture of</text>
<text x="240.5" y="649.8" font-size="16.7" text-anchor="start" font-weight="normal" fill="#000" >C-D3T2+R-D3T2</text>
<path d="M378.66,643.62 H372.32 A3.17,3.17 0 0 0 372.32,649.97 H378.66" stroke="#000" stroke-width="0.9185" fill="none" />
<text x="379.7" y="649.8" font-size="16.7" text-anchor="start" font-weight="normal" fill="#000" >PbI</text>
<text x="404.5" y="707.3" font-size="18.2" text-anchor="middle" font-weight="normal" fill="#000" >No</text>
<text x="404.6" y="728.4" font-size="18.2" text-anchor="middle" font-weight="normal" fill="#000" >light</text>
<text x="485.8" y="707.3" font-size="18.2" text-anchor="middle" font-weight="normal" fill="#000" >No</text>
<text x="486.5" y="728.4" font-size="18.2" text-anchor="middle" font-weight="normal" fill="#000" >catalyst</text>
<text x="567.6" y="706.6" font-size="18.3" text-anchor="middle" font-weight="normal" fill="#000" >Commercial</text>
<text x="568.8" y="728.2" font-size="18.2" text-anchor="middle" font-weight="normal" fill="#000" >PbI<tspan dy="5.2" font-size="10.9">2</tspan><tspan dy="-5.2" font-size="18.2">&#8203;</tspan></text>
<text x="651.2" y="728.4" font-size="18.2" text-anchor="middle" font-weight="normal" fill="#000" >C-D3T2</text>
<text x="732.3" y="728.4" font-size="18.2" text-anchor="middle" font-weight="normal" fill="#000" >R-D3T2</text>
<path d="M474.3,454.9 H526.1 V506.3 H474.3 Z M487.4,467.2 V492.6 H513.0 V467.2 Z" fill="#8ac1ae" fill-rule="evenodd"/>
<use href="#oc5" transform="translate(478.3,458.9) scale(3.65,3.62)"/>
<use href="#oc5" transform="translate(492.9,458.9) scale(3.65,3.62)"/>
<use href="#oc5" transform="translate(507.5,458.9) scale(3.65,3.62)"/>
<use href="#oc5" transform="translate(522.1,458.9) scale(3.65,3.62)"/>
<use href="#oc5" transform="translate(478.3,473.4) scale(3.65,3.62)"/>
<use href="#oc5" transform="translate(522.1,473.4) scale(3.65,3.62)"/>
<use href="#oc5" transform="translate(478.3,487.9) scale(3.65,3.62)"/>
<use href="#oc5" transform="translate(522.1,487.9) scale(3.65,3.62)"/>
<use href="#oc5" transform="translate(478.3,502.4) scale(3.65,3.62)"/>
<use href="#oc5" transform="translate(492.9,502.4) scale(3.65,3.62)"/>
<use href="#oc5" transform="translate(507.5,502.4) scale(3.65,3.62)"/>
<use href="#oc5" transform="translate(522.1,502.4) scale(3.65,3.62)"/>
<use href="#oc6" transform="translate(474.6,455.2) scale(4.09,4.06)"/>
<use href="#oc6" transform="translate(481.9,455.2) scale(4.09,4.06)"/>
<use href="#oc6" transform="translate(489.2,455.2) scale(4.09,4.06)"/>
<use href="#oc6" transform="translate(496.6,455.2) scale(4.09,4.06)"/>
<use href="#oc6" transform="translate(503.9,455.2) scale(4.09,4.06)"/>
<use href="#oc6" transform="translate(511.1,455.2) scale(4.09,4.06)"/>
<use href="#oc6" transform="translate(518.5,455.2) scale(4.09,4.06)"/>
<use href="#oc6" transform="translate(525.8,455.2) scale(4.09,4.06)"/>
<use href="#oc6" transform="translate(474.6,462.5) scale(4.09,4.06)"/>
<use href="#oc6" transform="translate(481.9,462.5) scale(4.09,4.06)"/>
<use href="#oc6" transform="translate(489.2,462.5) scale(4.09,4.06)"/>
<use href="#oc6" transform="translate(496.6,462.5) scale(4.09,4.06)"/>
<use href="#oc6" transform="translate(503.9,462.5) scale(4.09,4.06)"/>
<use href="#oc6" transform="translate(511.1,462.5) scale(4.09,4.06)"/>
<use href="#oc6" transform="translate(518.5,462.5) scale(4.09,4.06)"/>
<use href="#oc6" transform="translate(525.8,462.5) scale(4.09,4.06)"/>
<use href="#oc6" transform="translate(474.6,469.7) scale(4.09,4.06)"/>
<use href="#oc6" transform="translate(481.9,469.7) scale(4.09,4.06)"/>
<use href="#oc6" transform="translate(518.5,469.7) scale(4.09,4.06)"/>
<use href="#oc6" transform="translate(525.8,469.7) scale(4.09,4.06)"/>
<use href="#oc6" transform="translate(474.6,477.0) scale(4.09,4.06)"/>
<use href="#oc6" transform="translate(481.9,477.0) scale(4.09,4.06)"/>
<use href="#oc6" transform="translate(518.5,477.0) scale(4.09,4.06)"/>
<use href="#oc6" transform="translate(525.8,477.0) scale(4.09,4.06)"/>
<use href="#oc6" transform="translate(474.6,484.2) scale(4.09,4.06)"/>
<use href="#oc6" transform="translate(481.9,484.2) scale(4.09,4.06)"/>
<use href="#oc6" transform="translate(518.5,484.2) scale(4.09,4.06)"/>
<use href="#oc6" transform="translate(525.8,484.2) scale(4.09,4.06)"/>
<use href="#oc6" transform="translate(474.6,491.5) scale(4.09,4.06)"/>
<use href="#oc6" transform="translate(481.9,491.5) scale(4.09,4.06)"/>
<use href="#oc6" transform="translate(518.5,491.5) scale(4.09,4.06)"/>
<use href="#oc6" transform="translate(525.8,491.5) scale(4.09,4.06)"/>
<use href="#oc6" transform="translate(474.6,498.7) scale(4.09,4.06)"/>
<use href="#oc6" transform="translate(481.9,498.7) scale(4.09,4.06)"/>
<use href="#oc6" transform="translate(489.2,498.7) scale(4.09,4.06)"/>
<use href="#oc6" transform="translate(496.6,498.7) scale(4.09,4.06)"/>
<use href="#oc6" transform="translate(503.9,498.7) scale(4.09,4.06)"/>
<use href="#oc6" transform="translate(511.1,498.7) scale(4.09,4.06)"/>
<use href="#oc6" transform="translate(518.5,498.7) scale(4.09,4.06)"/>
<use href="#oc6" transform="translate(525.8,498.7) scale(4.09,4.06)"/>
<use href="#oc6" transform="translate(474.6,506.0) scale(4.09,4.06)"/>
<use href="#oc6" transform="translate(481.9,506.0) scale(4.09,4.06)"/>
<use href="#oc6" transform="translate(489.2,506.0) scale(4.09,4.06)"/>
<use href="#oc6" transform="translate(496.6,506.0) scale(4.09,4.06)"/>
<use href="#oc6" transform="translate(503.9,506.0) scale(4.09,4.06)"/>
<use href="#oc6" transform="translate(511.1,506.0) scale(4.09,4.06)"/>
<use href="#oc6" transform="translate(518.5,506.0) scale(4.09,4.06)"/>
<use href="#oc6" transform="translate(525.8,506.0) scale(4.09,4.06)"/>
<text x="547.0" y="494.4" font-size="26.6" text-anchor="start" font-weight="normal" fill="#000" >Outer inorganic host</text>
<path d="M493.62,520.86 L504.38,520.86" stroke="#f09a86" stroke-width="2.53" fill="none" stroke-linecap="round" stroke-linejoin="round"/>
<path d="M493.62,567.44 L504.38,567.44" stroke="#f09a86" stroke-width="2.53" fill="none" stroke-linecap="round" stroke-linejoin="round"/>
<path d="M493.62,520.86 L482.38,530.46 L482.38,535.14" stroke="#f09a86" stroke-width="2.53" fill="none" stroke-linecap="round" stroke-linejoin="round"/>
<path d="M504.38,520.86 L515.38,530.69 L515.38,535.14" stroke="#f09a86" stroke-width="2.53" fill="none" stroke-linecap="round" stroke-linejoin="round"/>
<path d="M482.38,552.93 L482.38,556.67 L493.62,567.44" stroke="#f09a86" stroke-width="2.53" fill="none" stroke-linecap="round" stroke-linejoin="round"/>
<path d="M515.38,552.93 L515.38,556.67 L504.38,567.44" stroke="#f09a86" stroke-width="2.53" fill="none" stroke-linecap="round" stroke-linejoin="round"/>
<path d="M499.23,520.86 L499.23,535.37" stroke="#f09a86" stroke-width="2.53" fill="none" stroke-linecap="round" stroke-linejoin="round"/>
<path d="M499.23,554.70 L499.23,568.84" stroke="#f09a86" stroke-width="2.53" fill="none" stroke-linecap="round" stroke-linejoin="round"/>
<polygon points="482.4,535.1 487.5,539.6 487.5,547.8 482.4,552.9 477.2,548.9 477.2,539.6" fill="#cf7a67" stroke="#f2a18e" stroke-width="0.7489729729729729" stroke-linejoin="round"/>
<polygon points="515.4,535.1 520.5,539.6 520.5,548.5 515.4,552.9 510.4,548.0 510.4,539.1" fill="#de8874" stroke="#f2a18e" stroke-width="0.7489729729729729" stroke-linejoin="round"/>
<polygon points="499.2,535.4 508.3,540.0 508.3,549.9 499.2,554.7 490.6,549.9 490.6,540.0" fill="#eb937f" stroke="#f2a18e" stroke-width="0.7489729729729729" stroke-linejoin="round"/>
<line x1="499.23" y1="523.90" x2="499.23" y2="526.01" stroke="#ea3c2f" stroke-width="3.79" stroke-linecap="round"/>
<line x1="499.23" y1="562.76" x2="499.23" y2="565.33" stroke="#ea3c2f" stroke-width="3.79" stroke-linecap="round"/>
<line x1="486.74" y1="526.67" x2="488.51" y2="525.17" stroke="#ea3c2f" stroke-width="3.79" stroke-linecap="round"/>
<line x1="509.20" y1="525.17" x2="510.89" y2="526.67" stroke="#ea3c2f" stroke-width="3.79" stroke-linecap="round"/>
<line x1="486.74" y1="560.88" x2="488.51" y2="562.57" stroke="#ea3c2f" stroke-width="3.79" stroke-linecap="round"/>
<line x1="509.30" y1="562.76" x2="510.98" y2="560.98" stroke="#ea3c2f" stroke-width="3.79" stroke-linecap="round"/>
<text x="547.0" y="551.3" font-size="26.6" text-anchor="start" font-weight="normal" fill="#000" >C-D3T2 cage</text>
<path d="M493.62,580.06 L504.38,580.06" stroke="#98c0ed" stroke-width="2.53" fill="none" stroke-linecap="round" stroke-linejoin="round"/>
<path d="M493.62,626.64 L504.38,626.64" stroke="#98c0ed" stroke-width="2.53" fill="none" stroke-linecap="round" stroke-linejoin="round"/>
<path d="M493.62,580.06 L482.38,589.66 L482.38,594.34" stroke="#98c0ed" stroke-width="2.53" fill="none" stroke-linecap="round" stroke-linejoin="round"/>
<path d="M504.38,580.06 L515.38,589.89 L515.38,594.34" stroke="#98c0ed" stroke-width="2.53" fill="none" stroke-linecap="round" stroke-linejoin="round"/>
<path d="M482.38,612.13 L482.38,615.87 L493.62,626.64" stroke="#98c0ed" stroke-width="2.53" fill="none" stroke-linecap="round" stroke-linejoin="round"/>
<path d="M515.38,612.13 L515.38,615.87 L504.38,626.64" stroke="#98c0ed" stroke-width="2.53" fill="none" stroke-linecap="round" stroke-linejoin="round"/>
<path d="M499.23,580.06 L499.23,594.57" stroke="#98c0ed" stroke-width="2.53" fill="none" stroke-linecap="round" stroke-linejoin="round"/>
<path d="M499.23,613.90 L499.23,628.04" stroke="#98c0ed" stroke-width="2.53" fill="none" stroke-linecap="round" stroke-linejoin="round"/>
<polygon points="482.4,594.3 487.5,598.8 487.5,607.0 482.4,612.1 477.2,608.1 477.2,598.8" fill="#6c92cc" stroke="#a2c6ef" stroke-width="0.7489729729729729" stroke-linejoin="round"/>
<polygon points="515.4,594.3 520.5,598.8 520.5,607.7 515.4,612.1 510.4,607.2 510.4,598.3" fill="#83abe2" stroke="#a2c6ef" stroke-width="0.7489729729729729" stroke-linejoin="round"/>
<polygon points="499.2,594.6 508.3,599.2 508.3,609.1 499.2,613.9 490.6,609.1 490.6,599.2" fill="#88b2e8" stroke="#a2c6ef" stroke-width="0.7489729729729729" stroke-linejoin="round"/>
<line x1="499.23" y1="583.10" x2="499.23" y2="585.21" stroke="#1f4fd6" stroke-width="3.79" stroke-linecap="round"/>
<line x1="499.23" y1="621.96" x2="499.23" y2="624.53" stroke="#1f4fd6" stroke-width="3.79" stroke-linecap="round"/>
<line x1="486.74" y1="585.87" x2="488.51" y2="584.37" stroke="#1f4fd6" stroke-width="3.79" stroke-linecap="round"/>
<line x1="509.20" y1="584.37" x2="510.89" y2="585.87" stroke="#1f4fd6" stroke-width="3.79" stroke-linecap="round"/>
<line x1="486.74" y1="620.08" x2="488.51" y2="621.77" stroke="#1f4fd6" stroke-width="3.79" stroke-linecap="round"/>
<line x1="509.30" y1="621.96" x2="510.98" y2="620.18" stroke="#1f4fd6" stroke-width="3.79" stroke-linecap="round"/>
<text x="547.0" y="611.1" font-size="26.6" text-anchor="start" font-weight="normal" fill="#000" >R-D3T2 cage</text>
<polygon points="497.5,641.2 511.5,655.0 497.5,668.8 483.5,655.0" fill="#52b184" stroke="none" stroke-width="0" />
<polygon points="497.5,641.2 483.5,655.0 500.3,656.8" fill="#80d8ab" stroke="none" stroke-width="0" />
<polygon points="497.5,641.2 511.5,655.0 500.3,656.8" fill="#60bf92" stroke="none" stroke-width="0" />
<polygon points="497.5,668.8 483.5,655.0 500.3,656.8" fill="#52b184" stroke="none" stroke-width="0" />
<polygon points="497.5,668.8 511.5,655.0 500.3,656.8" fill="#3e946c" stroke="none" stroke-width="0" />
<text x="547.0" y="662.2" font-size="26.6" text-anchor="start" font-weight="normal" fill="#000" >Commercial PbI<tspan dy="6.2" font-size="17.0">2</tspan><tspan dy="-6.2" font-size="26.6">&#8203;</tspan></text>
<path d="M124.8,762.7 H186.3 V820.8 H124.8 Z M148.6,777.0 V801.6 H168.5 V777.0 Z" fill="#8ac1ae" fill-rule="evenodd"/>
<use href="#oc5" transform="translate(129.6,767.2) scale(4.33,4.09)"/>
<use href="#oc5" transform="translate(146.9,767.2) scale(4.33,4.09)"/>
<use href="#oc5" transform="translate(164.2,767.2) scale(4.33,4.09)"/>
<use href="#oc5" transform="translate(181.5,767.2) scale(4.33,4.09)"/>
<use href="#oc5" transform="translate(129.6,783.6) scale(4.33,4.09)"/>
<use href="#oc5" transform="translate(146.9,783.6) scale(4.33,4.09)"/>
<use href="#oc5" transform="translate(181.5,783.6) scale(4.33,4.09)"/>
<use href="#oc5" transform="translate(129.6,799.9) scale(4.33,4.09)"/>
<use href="#oc5" transform="translate(146.9,799.9) scale(4.33,4.09)"/>
<use href="#oc5" transform="translate(181.5,799.9) scale(4.33,4.09)"/>
<use href="#oc5" transform="translate(129.6,816.3) scale(4.33,4.09)"/>
<use href="#oc5" transform="translate(146.9,816.3) scale(4.33,4.09)"/>
<use href="#oc5" transform="translate(164.2,816.3) scale(4.33,4.09)"/>
<use href="#oc5" transform="translate(181.5,816.3) scale(4.33,4.09)"/>
<use href="#oc6" transform="translate(125.2,763.1) scale(4.85,4.59)"/>
<use href="#oc6" transform="translate(133.9,763.1) scale(4.85,4.59)"/>
<use href="#oc6" transform="translate(142.6,763.1) scale(4.85,4.59)"/>
<use href="#oc6" transform="translate(151.2,763.1) scale(4.85,4.59)"/>
<use href="#oc6" transform="translate(159.9,763.1) scale(4.85,4.59)"/>
<use href="#oc6" transform="translate(168.5,763.1) scale(4.85,4.59)"/>
<use href="#oc6" transform="translate(177.2,763.1) scale(4.85,4.59)"/>
<use href="#oc6" transform="translate(185.9,763.1) scale(4.85,4.59)"/>
<use href="#oc6" transform="translate(125.2,771.3) scale(4.85,4.59)"/>
<use href="#oc6" transform="translate(133.9,771.3) scale(4.85,4.59)"/>
<use href="#oc6" transform="translate(142.6,771.3) scale(4.85,4.59)"/>
<use href="#oc6" transform="translate(151.2,771.3) scale(4.85,4.59)"/>
<use href="#oc6" transform="translate(159.9,771.3) scale(4.85,4.59)"/>
<use href="#oc6" transform="translate(168.5,771.3) scale(4.85,4.59)"/>
<use href="#oc6" transform="translate(177.2,771.3) scale(4.85,4.59)"/>
<use href="#oc6" transform="translate(185.9,771.3) scale(4.85,4.59)"/>
<use href="#oc6" transform="translate(125.2,779.5) scale(4.85,4.59)"/>
<use href="#oc6" transform="translate(133.9,779.5) scale(4.85,4.59)"/>
<use href="#oc6" transform="translate(142.6,779.5) scale(4.85,4.59)"/>
<use href="#oc6" transform="translate(177.2,779.5) scale(4.85,4.59)"/>
<use href="#oc6" transform="translate(185.9,779.5) scale(4.85,4.59)"/>
<use href="#oc6" transform="translate(125.2,787.7) scale(4.85,4.59)"/>
<use href="#oc6" transform="translate(133.9,787.7) scale(4.85,4.59)"/>
<use href="#oc6" transform="translate(142.6,787.7) scale(4.85,4.59)"/>
<use href="#oc6" transform="translate(177.2,787.7) scale(4.85,4.59)"/>
<use href="#oc6" transform="translate(185.9,787.7) scale(4.85,4.59)"/>
<use href="#oc6" transform="translate(125.2,795.8) scale(4.85,4.59)"/>
<use href="#oc6" transform="translate(133.9,795.8) scale(4.85,4.59)"/>
<use href="#oc6" transform="translate(142.6,795.8) scale(4.85,4.59)"/>
<use href="#oc6" transform="translate(177.2,795.8) scale(4.85,4.59)"/>
<use href="#oc6" transform="translate(185.9,795.8) scale(4.85,4.59)"/>
<use href="#oc6" transform="translate(125.2,804.0) scale(4.85,4.59)"/>
<use href="#oc6" transform="translate(133.9,804.0) scale(4.85,4.59)"/>
<use href="#oc6" transform="translate(142.6,804.0) scale(4.85,4.59)"/>
<use href="#oc6" transform="translate(151.2,804.0) scale(4.85,4.59)"/>
<use href="#oc6" transform="translate(159.9,804.0) scale(4.85,4.59)"/>
<use href="#oc6" transform="translate(168.5,804.0) scale(4.85,4.59)"/>
<use href="#oc6" transform="translate(177.2,804.0) scale(4.85,4.59)"/>
<use href="#oc6" transform="translate(185.9,804.0) scale(4.85,4.59)"/>
<use href="#oc6" transform="translate(125.2,812.2) scale(4.85,4.59)"/>
<use href="#oc6" transform="translate(133.9,812.2) scale(4.85,4.59)"/>
<use href="#oc6" transform="translate(142.6,812.2) scale(4.85,4.59)"/>
<use href="#oc6" transform="translate(151.2,812.2) scale(4.85,4.59)"/>
<use href="#oc6" transform="translate(159.9,812.2) scale(4.85,4.59)"/>
<use href="#oc6" transform="translate(168.5,812.2) scale(4.85,4.59)"/>
<use href="#oc6" transform="translate(177.2,812.2) scale(4.85,4.59)"/>
<use href="#oc6" transform="translate(185.9,812.2) scale(4.85,4.59)"/>
<use href="#oc6" transform="translate(125.2,820.4) scale(4.85,4.59)"/>
<use href="#oc6" transform="translate(133.9,820.4) scale(4.85,4.59)"/>
<use href="#oc6" transform="translate(142.6,820.4) scale(4.85,4.59)"/>
<use href="#oc6" transform="translate(151.2,820.4) scale(4.85,4.59)"/>
<use href="#oc6" transform="translate(159.9,820.4) scale(4.85,4.59)"/>
<use href="#oc6" transform="translate(168.5,820.4) scale(4.85,4.59)"/>
<use href="#oc6" transform="translate(177.2,820.4) scale(4.85,4.59)"/>
<use href="#oc6" transform="translate(185.9,820.4) scale(4.85,4.59)"/>
<path d="M156.11,779.28 L161.09,779.28" stroke="#d3846d" stroke-width="1.30" fill="none" stroke-linecap="round" stroke-linejoin="round"/>
<path d="M156.11,800.79 L161.09,800.79" stroke="#d3846d" stroke-width="1.30" fill="none" stroke-linecap="round" stroke-linejoin="round"/>
<path d="M156.11,779.28 L150.92,783.71 L150.92,785.88" stroke="#d3846d" stroke-width="1.30" fill="none" stroke-linecap="round" stroke-linejoin="round"/>
<path d="M161.09,779.28 L166.17,783.82 L166.17,785.88" stroke="#d3846d" stroke-width="1.30" fill="none" stroke-linecap="round" stroke-linejoin="round"/>
<path d="M150.92,794.09 L150.92,795.82 L156.11,800.79" stroke="#d3846d" stroke-width="1.30" fill="none" stroke-linecap="round" stroke-linejoin="round"/>
<path d="M166.17,794.09 L166.17,795.82 L161.09,800.79" stroke="#d3846d" stroke-width="1.30" fill="none" stroke-linecap="round" stroke-linejoin="round"/>
<path d="M157.09,779.28 L157.09,785.98" stroke="#d3846d" stroke-width="1.30" fill="none" stroke-linecap="round" stroke-linejoin="round"/>
<path d="M157.09,794.91 L157.09,801.44" stroke="#d3846d" stroke-width="1.30" fill="none" stroke-linecap="round" stroke-linejoin="round"/>
<polygon points="150.9,785.9 153.3,787.9 153.3,791.7 150.9,794.1 148.5,792.3 148.5,787.9" fill="#a96853" stroke="#c98470" stroke-width="0.6" stroke-linejoin="round"/>
<polygon points="166.2,785.9 168.5,787.9 168.5,792.0 166.2,794.1 163.9,791.8 163.9,787.7" fill="#ad6b57" stroke="#c98470" stroke-width="0.6" stroke-linejoin="round"/>
<polygon points="157.1,786.0 161.3,788.1 161.3,792.7 157.1,794.9 153.1,792.7 153.1,788.1" fill="#b77460" stroke="#c98470" stroke-width="0.6" stroke-linejoin="round"/>
<line x1="157.09" y1="780.69" x2="157.09" y2="781.66" stroke="#d9302a" stroke-width="1.62" stroke-linecap="round"/>
<line x1="157.09" y1="798.63" x2="157.09" y2="799.82" stroke="#d9302a" stroke-width="1.62" stroke-linecap="round"/>
<line x1="152.94" y1="781.96" x2="153.76" y2="781.27" stroke="#d9302a" stroke-width="1.62" stroke-linecap="round"/>
<line x1="163.31" y1="781.27" x2="164.09" y2="781.96" stroke="#d9302a" stroke-width="1.62" stroke-linecap="round"/>
<line x1="152.94" y1="797.77" x2="153.76" y2="798.55" stroke="#d9302a" stroke-width="1.62" stroke-linecap="round"/>
<line x1="163.36" y1="798.63" x2="164.14" y2="797.81" stroke="#d9302a" stroke-width="1.62" stroke-linecap="round"/>
<path d="M207.7,762.7 H269.1 V820.8 H207.7 Z M231.5,777.0 V801.6 H251.4 V777.0 Z" fill="#8ac1ae" fill-rule="evenodd"/>
<use href="#oc5" transform="translate(212.5,767.2) scale(4.33,4.09)"/>
<use href="#oc5" transform="translate(229.8,767.2) scale(4.33,4.09)"/>
<use href="#oc5" transform="translate(247.1,767.2) scale(4.33,4.09)"/>
<use href="#oc5" transform="translate(264.4,767.2) scale(4.33,4.09)"/>
<use href="#oc5" transform="translate(212.5,783.6) scale(4.33,4.09)"/>
<use href="#oc5" transform="translate(229.8,783.6) scale(4.33,4.09)"/>
<use href="#oc5" transform="translate(264.4,783.6) scale(4.33,4.09)"/>
<use href="#oc5" transform="translate(212.5,799.9) scale(4.33,4.09)"/>
<use href="#oc5" transform="translate(229.8,799.9) scale(4.33,4.09)"/>
<use href="#oc5" transform="translate(264.4,799.9) scale(4.33,4.09)"/>
<use href="#oc5" transform="translate(212.5,816.3) scale(4.33,4.09)"/>
<use href="#oc5" transform="translate(229.8,816.3) scale(4.33,4.09)"/>
<use href="#oc5" transform="translate(247.1,816.3) scale(4.33,4.09)"/>
<use href="#oc5" transform="translate(264.4,816.3) scale(4.33,4.09)"/>
<use href="#oc6" transform="translate(208.1,763.1) scale(4.84,4.59)"/>
<use href="#oc6" transform="translate(216.8,763.1) scale(4.84,4.59)"/>
<use href="#oc6" transform="translate(225.4,763.1) scale(4.84,4.59)"/>
<use href="#oc6" transform="translate(234.1,763.1) scale(4.84,4.59)"/>
<use href="#oc6" transform="translate(242.7,763.1) scale(4.84,4.59)"/>
<use href="#oc6" transform="translate(251.4,763.1) scale(4.84,4.59)"/>
<use href="#oc6" transform="translate(260.0,763.1) scale(4.84,4.59)"/>
<use href="#oc6" transform="translate(268.7,763.1) scale(4.84,4.59)"/>
<use href="#oc6" transform="translate(208.1,771.3) scale(4.84,4.59)"/>
<use href="#oc6" transform="translate(216.8,771.3) scale(4.84,4.59)"/>
<use href="#oc6" transform="translate(225.4,771.3) scale(4.84,4.59)"/>
<use href="#oc6" transform="translate(234.1,771.3) scale(4.84,4.59)"/>
<use href="#oc6" transform="translate(242.7,771.3) scale(4.84,4.59)"/>
<use href="#oc6" transform="translate(251.4,771.3) scale(4.84,4.59)"/>
<use href="#oc6" transform="translate(260.0,771.3) scale(4.84,4.59)"/>
<use href="#oc6" transform="translate(268.7,771.3) scale(4.84,4.59)"/>
<use href="#oc6" transform="translate(208.1,779.5) scale(4.84,4.59)"/>
<use href="#oc6" transform="translate(216.8,779.5) scale(4.84,4.59)"/>
<use href="#oc6" transform="translate(225.4,779.5) scale(4.84,4.59)"/>
<use href="#oc6" transform="translate(260.0,779.5) scale(4.84,4.59)"/>
<use href="#oc6" transform="translate(268.7,779.5) scale(4.84,4.59)"/>
<use href="#oc6" transform="translate(208.1,787.7) scale(4.84,4.59)"/>
<use href="#oc6" transform="translate(216.8,787.7) scale(4.84,4.59)"/>
<use href="#oc6" transform="translate(225.4,787.7) scale(4.84,4.59)"/>
<use href="#oc6" transform="translate(260.0,787.7) scale(4.84,4.59)"/>
<use href="#oc6" transform="translate(268.7,787.7) scale(4.84,4.59)"/>
<use href="#oc6" transform="translate(208.1,795.8) scale(4.84,4.59)"/>
<use href="#oc6" transform="translate(216.8,795.8) scale(4.84,4.59)"/>
<use href="#oc6" transform="translate(225.4,795.8) scale(4.84,4.59)"/>
<use href="#oc6" transform="translate(260.0,795.8) scale(4.84,4.59)"/>
<use href="#oc6" transform="translate(268.7,795.8) scale(4.84,4.59)"/>
<use href="#oc6" transform="translate(208.1,804.0) scale(4.84,4.59)"/>
<use href="#oc6" transform="translate(216.8,804.0) scale(4.84,4.59)"/>
<use href="#oc6" transform="translate(225.4,804.0) scale(4.84,4.59)"/>
<use href="#oc6" transform="translate(234.1,804.0) scale(4.84,4.59)"/>
<use href="#oc6" transform="translate(242.7,804.0) scale(4.84,4.59)"/>
<use href="#oc6" transform="translate(251.4,804.0) scale(4.84,4.59)"/>
<use href="#oc6" transform="translate(260.0,804.0) scale(4.84,4.59)"/>
<use href="#oc6" transform="translate(268.7,804.0) scale(4.84,4.59)"/>
<use href="#oc6" transform="translate(208.1,812.2) scale(4.84,4.59)"/>
<use href="#oc6" transform="translate(216.8,812.2) scale(4.84,4.59)"/>
<use href="#oc6" transform="translate(225.4,812.2) scale(4.84,4.59)"/>
<use href="#oc6" transform="translate(234.1,812.2) scale(4.84,4.59)"/>
<use href="#oc6" transform="translate(242.7,812.2) scale(4.84,4.59)"/>
<use href="#oc6" transform="translate(251.4,812.2) scale(4.84,4.59)"/>
<use href="#oc6" transform="translate(260.0,812.2) scale(4.84,4.59)"/>
<use href="#oc6" transform="translate(268.7,812.2) scale(4.84,4.59)"/>
<use href="#oc6" transform="translate(208.1,820.4) scale(4.84,4.59)"/>
<use href="#oc6" transform="translate(216.8,820.4) scale(4.84,4.59)"/>
<use href="#oc6" transform="translate(225.4,820.4) scale(4.84,4.59)"/>
<use href="#oc6" transform="translate(234.1,820.4) scale(4.84,4.59)"/>
<use href="#oc6" transform="translate(242.7,820.4) scale(4.84,4.59)"/>
<use href="#oc6" transform="translate(251.4,820.4) scale(4.84,4.59)"/>
<use href="#oc6" transform="translate(260.0,820.4) scale(4.84,4.59)"/>
<use href="#oc6" transform="translate(268.7,820.4) scale(4.84,4.59)"/>
<path d="M239.01,779.28 L243.99,779.28" stroke="#98c0ed" stroke-width="1.30" fill="none" stroke-linecap="round" stroke-linejoin="round"/>
<path d="M239.01,800.79 L243.99,800.79" stroke="#98c0ed" stroke-width="1.30" fill="none" stroke-linecap="round" stroke-linejoin="round"/>
<path d="M239.01,779.28 L233.82,783.71 L233.82,785.88" stroke="#98c0ed" stroke-width="1.30" fill="none" stroke-linecap="round" stroke-linejoin="round"/>
<path d="M243.99,779.28 L249.07,783.82 L249.07,785.88" stroke="#98c0ed" stroke-width="1.30" fill="none" stroke-linecap="round" stroke-linejoin="round"/>
<path d="M233.82,794.09 L233.82,795.82 L239.01,800.79" stroke="#98c0ed" stroke-width="1.30" fill="none" stroke-linecap="round" stroke-linejoin="round"/>
<path d="M249.07,794.09 L249.07,795.82 L243.99,800.79" stroke="#98c0ed" stroke-width="1.30" fill="none" stroke-linecap="round" stroke-linejoin="round"/>
<path d="M239.99,779.28 L239.99,785.98" stroke="#98c0ed" stroke-width="1.30" fill="none" stroke-linecap="round" stroke-linejoin="round"/>
<path d="M239.99,794.91 L239.99,801.44" stroke="#98c0ed" stroke-width="1.30" fill="none" stroke-linecap="round" stroke-linejoin="round"/>
<polygon points="233.8,785.9 236.2,787.9 236.2,791.7 233.8,794.1 231.4,792.3 231.4,787.9" fill="#6c92cc" stroke="#a2c6ef" stroke-width="0.6" stroke-linejoin="round"/>
<polygon points="249.1,785.9 251.4,787.9 251.4,792.0 249.1,794.1 246.8,791.8 246.8,787.7" fill="#83abe2" stroke="#a2c6ef" stroke-width="0.6" stroke-linejoin="round"/>
<polygon points="240.0,786.0 244.2,788.1 244.2,792.7 240.0,794.9 236.0,792.7 236.0,788.1" fill="#88b2e8" stroke="#a2c6ef" stroke-width="0.6" stroke-linejoin="round"/>
<line x1="239.99" y1="780.69" x2="239.99" y2="781.66" stroke="#1f4fd6" stroke-width="1.62" stroke-linecap="round"/>
<line x1="239.99" y1="798.63" x2="239.99" y2="799.82" stroke="#1f4fd6" stroke-width="1.62" stroke-linecap="round"/>
<line x1="235.84" y1="781.96" x2="236.66" y2="781.27" stroke="#1f4fd6" stroke-width="1.62" stroke-linecap="round"/>
<line x1="246.21" y1="781.27" x2="246.99" y2="781.96" stroke="#1f4fd6" stroke-width="1.62" stroke-linecap="round"/>
<line x1="235.84" y1="797.77" x2="236.66" y2="798.55" stroke="#1f4fd6" stroke-width="1.62" stroke-linecap="round"/>
<line x1="246.26" y1="798.63" x2="247.04" y2="797.81" stroke="#1f4fd6" stroke-width="1.62" stroke-linecap="round"/>
<path d="M295.83,774.19 L303.17,774.19" stroke="#f09a86" stroke-width="1.91" fill="none" stroke-linecap="round" stroke-linejoin="round"/>
<path d="M295.83,805.93 L303.17,805.93" stroke="#f09a86" stroke-width="1.91" fill="none" stroke-linecap="round" stroke-linejoin="round"/>
<path d="M295.83,774.19 L288.18,780.73 L288.18,783.92" stroke="#f09a86" stroke-width="1.91" fill="none" stroke-linecap="round" stroke-linejoin="round"/>
<path d="M303.17,774.19 L310.66,780.89 L310.66,783.92" stroke="#f09a86" stroke-width="1.91" fill="none" stroke-linecap="round" stroke-linejoin="round"/>
<path d="M288.18,796.04 L288.18,798.59 L295.83,805.93" stroke="#f09a86" stroke-width="1.91" fill="none" stroke-linecap="round" stroke-linejoin="round"/>
<path d="M310.66,796.04 L310.66,798.59 L303.17,805.93" stroke="#f09a86" stroke-width="1.91" fill="none" stroke-linecap="round" stroke-linejoin="round"/>
<path d="M297.27,774.19 L297.27,784.08" stroke="#f09a86" stroke-width="1.91" fill="none" stroke-linecap="round" stroke-linejoin="round"/>
<path d="M297.27,797.25 L297.27,806.88" stroke="#f09a86" stroke-width="1.91" fill="none" stroke-linecap="round" stroke-linejoin="round"/>
<polygon points="288.2,783.9 291.7,787.0 291.7,792.5 288.2,796.0 284.7,793.3 284.7,787.0" fill="#cf7a67" stroke="#f2a18e" stroke-width="0.6" stroke-linejoin="round"/>
<polygon points="310.7,783.9 314.2,787.0 314.2,793.0 310.7,796.0 307.2,792.7 307.2,786.6" fill="#de8874" stroke="#f2a18e" stroke-width="0.6" stroke-linejoin="round"/>
<polygon points="297.3,784.1 303.4,787.2 303.4,794.0 297.3,797.3 291.4,794.0 291.4,787.2" fill="#eb937f" stroke="#f2a18e" stroke-width="0.6" stroke-linejoin="round"/>
<line x1="297.27" y1="776.27" x2="297.27" y2="777.70" stroke="#ea3c2f" stroke-width="2.39" stroke-linecap="round"/>
<line x1="297.27" y1="802.74" x2="297.27" y2="804.49" stroke="#ea3c2f" stroke-width="2.39" stroke-linecap="round"/>
<line x1="291.14" y1="778.15" x2="292.36" y2="777.13" stroke="#ea3c2f" stroke-width="2.39" stroke-linecap="round"/>
<line x1="306.45" y1="777.13" x2="307.60" y2="778.15" stroke="#ea3c2f" stroke-width="2.39" stroke-linecap="round"/>
<line x1="291.14" y1="801.46" x2="292.36" y2="802.61" stroke="#ea3c2f" stroke-width="2.39" stroke-linecap="round"/>
<line x1="306.52" y1="802.74" x2="307.66" y2="801.53" stroke="#ea3c2f" stroke-width="2.39" stroke-linecap="round"/>
<path d="M317.5,762.5 H375.6 V818.5 H317.5 Z M338.4,776.3 V800.0 H357.2 V776.3 Z" fill="#8ac1ae" fill-rule="evenodd"/>
<use href="#oc5" transform="translate(322.0,766.9) scale(4.09,3.94)"/>
<use href="#oc5" transform="translate(338.4,766.9) scale(4.09,3.94)"/>
<use href="#oc5" transform="translate(354.7,766.9) scale(4.09,3.94)"/>
<use href="#oc5" transform="translate(371.1,766.9) scale(4.09,3.94)"/>
<use href="#oc5" transform="translate(322.0,782.6) scale(4.09,3.94)"/>
<use href="#oc5" transform="translate(371.1,782.6) scale(4.09,3.94)"/>
<use href="#oc5" transform="translate(322.0,798.4) scale(4.09,3.94)"/>
<use href="#oc5" transform="translate(371.1,798.4) scale(4.09,3.94)"/>
<use href="#oc5" transform="translate(322.0,814.1) scale(4.09,3.94)"/>
<use href="#oc5" transform="translate(338.4,814.1) scale(4.09,3.94)"/>
<use href="#oc5" transform="translate(354.7,814.1) scale(4.09,3.94)"/>
<use href="#oc5" transform="translate(371.1,814.1) scale(4.09,3.94)"/>
<use href="#oc6" transform="translate(317.9,762.9) scale(4.59,4.41)"/>
<use href="#oc6" transform="translate(326.1,762.9) scale(4.59,4.41)"/>
<use href="#oc6" transform="translate(334.3,762.9) scale(4.59,4.41)"/>
<use href="#oc6" transform="translate(342.5,762.9) scale(4.59,4.41)"/>
<use href="#oc6" transform="translate(350.6,762.9) scale(4.59,4.41)"/>
<use href="#oc6" transform="translate(358.8,762.9) scale(4.59,4.41)"/>
<use href="#oc6" transform="translate(367.0,762.9) scale(4.59,4.41)"/>
<use href="#oc6" transform="translate(375.2,762.9) scale(4.59,4.41)"/>
<use href="#oc6" transform="translate(317.9,770.8) scale(4.59,4.41)"/>
<use href="#oc6" transform="translate(326.1,770.8) scale(4.59,4.41)"/>
<use href="#oc6" transform="translate(334.3,770.8) scale(4.59,4.41)"/>
<use href="#oc6" transform="translate(342.5,770.8) scale(4.59,4.41)"/>
<use href="#oc6" transform="translate(350.6,770.8) scale(4.59,4.41)"/>
<use href="#oc6" transform="translate(358.8,770.8) scale(4.59,4.41)"/>
<use href="#oc6" transform="translate(367.0,770.8) scale(4.59,4.41)"/>
<use href="#oc6" transform="translate(375.2,770.8) scale(4.59,4.41)"/>
<use href="#oc6" transform="translate(317.9,778.7) scale(4.59,4.41)"/>
<use href="#oc6" transform="translate(326.1,778.7) scale(4.59,4.41)"/>
<use href="#oc6" transform="translate(334.3,778.7) scale(4.59,4.41)"/>
<use href="#oc6" transform="translate(358.8,778.7) scale(4.59,4.41)"/>
<use href="#oc6" transform="translate(367.0,778.7) scale(4.59,4.41)"/>
<use href="#oc6" transform="translate(375.2,778.7) scale(4.59,4.41)"/>
<use href="#oc6" transform="translate(317.9,786.6) scale(4.59,4.41)"/>
<use href="#oc6" transform="translate(326.1,786.6) scale(4.59,4.41)"/>
<use href="#oc6" transform="translate(334.3,786.6) scale(4.59,4.41)"/>
<use href="#oc6" transform="translate(358.8,786.6) scale(4.59,4.41)"/>
<use href="#oc6" transform="translate(367.0,786.6) scale(4.59,4.41)"/>
<use href="#oc6" transform="translate(375.2,786.6) scale(4.59,4.41)"/>
<use href="#oc6" transform="translate(317.9,794.4) scale(4.59,4.41)"/>
<use href="#oc6" transform="translate(326.1,794.4) scale(4.59,4.41)"/>
<use href="#oc6" transform="translate(334.3,794.4) scale(4.59,4.41)"/>
<use href="#oc6" transform="translate(358.8,794.4) scale(4.59,4.41)"/>
<use href="#oc6" transform="translate(367.0,794.4) scale(4.59,4.41)"/>
<use href="#oc6" transform="translate(375.2,794.4) scale(4.59,4.41)"/>
<use href="#oc6" transform="translate(317.9,802.3) scale(4.59,4.41)"/>
<use href="#oc6" transform="translate(326.1,802.3) scale(4.59,4.41)"/>
<use href="#oc6" transform="translate(334.3,802.3) scale(4.59,4.41)"/>
<use href="#oc6" transform="translate(342.5,802.3) scale(4.59,4.41)"/>
<use href="#oc6" transform="translate(350.6,802.3) scale(4.59,4.41)"/>
<use href="#oc6" transform="translate(358.8,802.3) scale(4.59,4.41)"/>
<use href="#oc6" transform="translate(367.0,802.3) scale(4.59,4.41)"/>
<use href="#oc6" transform="translate(375.2,802.3) scale(4.59,4.41)"/>
<use href="#oc6" transform="translate(317.9,810.2) scale(4.59,4.41)"/>
<use href="#oc6" transform="translate(326.1,810.2) scale(4.59,4.41)"/>
<use href="#oc6" transform="translate(334.3,810.2) scale(4.59,4.41)"/>
<use href="#oc6" transform="translate(342.5,810.2) scale(4.59,4.41)"/>
<use href="#oc6" transform="translate(350.6,810.2) scale(4.59,4.41)"/>
<use href="#oc6" transform="translate(358.8,810.2) scale(4.59,4.41)"/>
<use href="#oc6" transform="translate(367.0,810.2) scale(4.59,4.41)"/>
<use href="#oc6" transform="translate(375.2,810.2) scale(4.59,4.41)"/>
<use href="#oc6" transform="translate(317.9,818.1) scale(4.59,4.41)"/>
<use href="#oc6" transform="translate(326.1,818.1) scale(4.59,4.41)"/>
<use href="#oc6" transform="translate(334.3,818.1) scale(4.59,4.41)"/>
<use href="#oc6" transform="translate(342.5,818.1) scale(4.59,4.41)"/>
<use href="#oc6" transform="translate(350.6,818.1) scale(4.59,4.41)"/>
<use href="#oc6" transform="translate(358.8,818.1) scale(4.59,4.41)"/>
<use href="#oc6" transform="translate(367.0,818.1) scale(4.59,4.41)"/>
<use href="#oc6" transform="translate(375.2,818.1) scale(4.59,4.41)"/>
<path d="M346.58,778.85 L351.42,778.85" stroke="#98c0ed" stroke-width="1.26" fill="none" stroke-linecap="round" stroke-linejoin="round"/>
<path d="M346.58,799.83 L351.42,799.83" stroke="#98c0ed" stroke-width="1.26" fill="none" stroke-linecap="round" stroke-linejoin="round"/>
<path d="M346.58,778.85 L341.52,783.18 L341.52,785.28" stroke="#98c0ed" stroke-width="1.26" fill="none" stroke-linecap="round" stroke-linejoin="round"/>
<path d="M351.42,778.85 L356.38,783.28 L356.38,785.28" stroke="#98c0ed" stroke-width="1.26" fill="none" stroke-linecap="round" stroke-linejoin="round"/>
<path d="M341.52,793.29 L341.52,794.98 L346.58,799.83" stroke="#98c0ed" stroke-width="1.26" fill="none" stroke-linecap="round" stroke-linejoin="round"/>
<path d="M356.38,793.29 L356.38,794.98 L351.42,799.83" stroke="#98c0ed" stroke-width="1.26" fill="none" stroke-linecap="round" stroke-linejoin="round"/>
<path d="M347.52,778.85 L347.52,785.39" stroke="#98c0ed" stroke-width="1.26" fill="none" stroke-linecap="round" stroke-linejoin="round"/>
<path d="M347.52,794.10 L347.52,800.46" stroke="#98c0ed" stroke-width="1.26" fill="none" stroke-linecap="round" stroke-linejoin="round"/>
<polygon points="341.5,785.3 343.8,787.3 343.8,791.0 341.5,793.3 339.2,791.5 339.2,787.3" fill="#6c92cc" stroke="#a2c6ef" stroke-width="0.6" stroke-linejoin="round"/>
<polygon points="356.4,785.3 358.7,787.3 358.7,791.3 356.4,793.3 354.1,791.1 354.1,787.1" fill="#83abe2" stroke="#a2c6ef" stroke-width="0.6" stroke-linejoin="round"/>
<polygon points="347.5,785.4 351.6,787.5 351.6,791.9 347.5,794.1 343.6,791.9 343.6,787.5" fill="#88b2e8" stroke="#a2c6ef" stroke-width="0.6" stroke-linejoin="round"/>
<line x1="347.52" y1="780.22" x2="347.52" y2="781.17" stroke="#1f4fd6" stroke-width="1.58" stroke-linecap="round"/>
<line x1="347.52" y1="797.72" x2="347.52" y2="798.88" stroke="#1f4fd6" stroke-width="1.58" stroke-linecap="round"/>
<line x1="343.48" y1="781.47" x2="344.28" y2="780.79" stroke="#1f4fd6" stroke-width="1.58" stroke-linecap="round"/>
<line x1="353.60" y1="780.79" x2="354.35" y2="781.47" stroke="#1f4fd6" stroke-width="1.58" stroke-linecap="round"/>
<line x1="343.48" y1="796.88" x2="344.28" y2="797.64" stroke="#1f4fd6" stroke-width="1.58" stroke-linecap="round"/>
<line x1="353.64" y1="797.72" x2="354.40" y2="796.92" stroke="#1f4fd6" stroke-width="1.58" stroke-linecap="round"/>
<polygon points="567.7,768.0 587.1,787.5 567.7,807.0 548.3,787.5" fill="#52b184" stroke="none" stroke-width="0" />
<polygon points="567.7,768.0 548.3,787.5 571.6,790.0" fill="#80d8ab" stroke="none" stroke-width="0" />
<polygon points="567.7,768.0 587.1,787.5 571.6,790.0" fill="#60bf92" stroke="none" stroke-width="0" />
<polygon points="567.7,807.0 548.3,787.5 571.6,790.0" fill="#52b184" stroke="none" stroke-width="0" />
<polygon points="567.7,807.0 587.1,787.5 571.6,790.0" fill="#3e946c" stroke="none" stroke-width="0" />
<path d="M641.28,766.13 L651.92,766.13" stroke="#f09a86" stroke-width="2.50" fill="none" stroke-linecap="round" stroke-linejoin="round"/>
<path d="M641.28,812.17 L651.92,812.17" stroke="#f09a86" stroke-width="2.50" fill="none" stroke-linecap="round" stroke-linejoin="round"/>
<path d="M641.28,766.13 L630.17,775.62 L630.17,780.25" stroke="#f09a86" stroke-width="2.50" fill="none" stroke-linecap="round" stroke-linejoin="round"/>
<path d="M651.92,766.13 L662.79,775.85 L662.79,780.25" stroke="#f09a86" stroke-width="2.50" fill="none" stroke-linecap="round" stroke-linejoin="round"/>
<path d="M630.17,797.83 L630.17,801.53 L641.28,812.17" stroke="#f09a86" stroke-width="2.50" fill="none" stroke-linecap="round" stroke-linejoin="round"/>
<path d="M662.79,797.83 L662.79,801.53 L651.92,812.17" stroke="#f09a86" stroke-width="2.50" fill="none" stroke-linecap="round" stroke-linejoin="round"/>
<path d="M646.83,766.13 L646.83,780.48" stroke="#f09a86" stroke-width="2.50" fill="none" stroke-linecap="round" stroke-linejoin="round"/>
<path d="M646.83,799.59 L646.83,813.56" stroke="#f09a86" stroke-width="2.50" fill="none" stroke-linecap="round" stroke-linejoin="round"/>
<polygon points="630.2,780.2 635.3,784.6 635.3,792.7 630.2,797.8 625.1,793.9 625.1,784.6" fill="#cf7a67" stroke="#f2a18e" stroke-width="0.7403243243243243" stroke-linejoin="round"/>
<polygon points="662.8,780.2 667.9,784.6 667.9,793.4 662.8,797.8 657.8,793.0 657.8,784.2" fill="#de8874" stroke="#f2a18e" stroke-width="0.7403243243243243" stroke-linejoin="round"/>
<polygon points="646.8,780.5 655.8,785.0 655.8,794.8 646.8,799.6 638.3,794.8 638.3,785.0" fill="#eb937f" stroke="#f2a18e" stroke-width="0.7403243243243243" stroke-linejoin="round"/>
<line x1="646.83" y1="769.14" x2="646.83" y2="771.22" stroke="#ea3c2f" stroke-width="3.75" stroke-linecap="round"/>
<line x1="646.83" y1="807.55" x2="646.83" y2="810.09" stroke="#ea3c2f" stroke-width="3.75" stroke-linecap="round"/>
<line x1="634.48" y1="771.87" x2="636.24" y2="770.39" stroke="#ea3c2f" stroke-width="3.75" stroke-linecap="round"/>
<line x1="656.69" y1="770.39" x2="658.35" y2="771.87" stroke="#ea3c2f" stroke-width="3.75" stroke-linecap="round"/>
<line x1="634.48" y1="805.69" x2="636.24" y2="807.36" stroke="#ea3c2f" stroke-width="3.75" stroke-linecap="round"/>
<line x1="656.78" y1="807.55" x2="658.45" y2="805.79" stroke="#ea3c2f" stroke-width="3.75" stroke-linecap="round"/>
<path d="M725.49,765.31 L736.51,765.31" stroke="#98c0ed" stroke-width="2.59" fill="none" stroke-linecap="round" stroke-linejoin="round"/>
<path d="M725.49,812.97 L736.51,812.97" stroke="#98c0ed" stroke-width="2.59" fill="none" stroke-linecap="round" stroke-linejoin="round"/>
<path d="M725.49,765.31 L714.00,775.13 L714.00,779.92" stroke="#98c0ed" stroke-width="2.59" fill="none" stroke-linecap="round" stroke-linejoin="round"/>
<path d="M736.51,765.31 L747.76,775.37 L747.76,779.92" stroke="#98c0ed" stroke-width="2.59" fill="none" stroke-linecap="round" stroke-linejoin="round"/>
<path d="M714.00,798.12 L714.00,801.95 L725.49,812.97" stroke="#98c0ed" stroke-width="2.59" fill="none" stroke-linecap="round" stroke-linejoin="round"/>
<path d="M747.76,798.12 L747.76,801.95 L736.51,812.97" stroke="#98c0ed" stroke-width="2.59" fill="none" stroke-linecap="round" stroke-linejoin="round"/>
<path d="M731.24,765.31 L731.24,780.16" stroke="#98c0ed" stroke-width="2.59" fill="none" stroke-linecap="round" stroke-linejoin="round"/>
<path d="M731.24,799.94 L731.24,814.40" stroke="#98c0ed" stroke-width="2.59" fill="none" stroke-linecap="round" stroke-linejoin="round"/>
<polygon points="714.0,779.9 719.3,784.5 719.3,792.9 714.0,798.1 708.7,794.0 708.7,784.5" fill="#6c92cc" stroke="#a2c6ef" stroke-width="0.7662702702702702" stroke-linejoin="round"/>
<polygon points="747.8,779.9 753.0,784.5 753.0,793.6 747.8,798.1 742.6,793.1 742.6,784.0" fill="#83abe2" stroke="#a2c6ef" stroke-width="0.7662702702702702" stroke-linejoin="round"/>
<polygon points="731.2,780.2 740.5,784.9 740.5,795.0 731.2,799.9 722.4,795.0 722.4,784.9" fill="#88b2e8" stroke="#a2c6ef" stroke-width="0.7662702702702702" stroke-linejoin="round"/>
<line x1="731.24" y1="768.43" x2="731.24" y2="770.58" stroke="#1f4fd6" stroke-width="3.88" stroke-linecap="round"/>
<line x1="731.24" y1="808.18" x2="731.24" y2="810.81" stroke="#1f4fd6" stroke-width="3.88" stroke-linecap="round"/>
<line x1="718.45" y1="771.25" x2="720.27" y2="769.72" stroke="#1f4fd6" stroke-width="3.88" stroke-linecap="round"/>
<line x1="741.44" y1="769.72" x2="743.16" y2="771.25" stroke="#1f4fd6" stroke-width="3.88" stroke-linecap="round"/>
<line x1="718.45" y1="806.26" x2="720.27" y2="807.99" stroke="#1f4fd6" stroke-width="3.88" stroke-linecap="round"/>
<line x1="741.54" y1="808.18" x2="743.26" y2="806.36" stroke="#1f4fd6" stroke-width="3.88" stroke-linecap="round"/>
<text x="841.0" y="455.3" font-size="30.5" text-anchor="start" font-weight="bold" fill="#000" >c</text>
<rect x="908.5" y="443.8" width="329.1" height="345.4" fill="#fff" stroke="#000" stroke-width="1.4"/>
<line x1="901.0" y1="767.5" x2="908.5" y2="767.5" stroke="#000" stroke-width="1.3" />
<text x="896.5" y="773.1" font-size="19" text-anchor="end" font-weight="normal" fill="#000" >0</text>
<line x1="904.5" y1="737.2" x2="908.5" y2="737.2" stroke="#000" stroke-width="1.3" />
<line x1="901.0" y1="706.9" x2="908.5" y2="706.9" stroke="#000" stroke-width="1.3" />
<text x="896.5" y="712.5" font-size="19" text-anchor="end" font-weight="normal" fill="#000" >20</text>
<line x1="904.5" y1="676.5" x2="908.5" y2="676.5" stroke="#000" stroke-width="1.3" />
<line x1="901.0" y1="646.2" x2="908.5" y2="646.2" stroke="#000" stroke-width="1.3" />
<text x="896.5" y="651.8" font-size="19" text-anchor="end" font-weight="normal" fill="#000" >40</text>
<line x1="904.5" y1="615.9" x2="908.5" y2="615.9" stroke="#000" stroke-width="1.3" />
<line x1="901.0" y1="585.6" x2="908.5" y2="585.6" stroke="#000" stroke-width="1.3" />
<text x="896.5" y="591.2" font-size="19" text-anchor="end" font-weight="normal" fill="#000" >60</text>
<line x1="904.5" y1="555.3" x2="908.5" y2="555.3" stroke="#000" stroke-width="1.3" />
<line x1="901.0" y1="524.9" x2="908.5" y2="524.9" stroke="#000" stroke-width="1.3" />
<text x="896.5" y="530.5" font-size="19" text-anchor="end" font-weight="normal" fill="#000" >80</text>
<line x1="904.5" y1="494.6" x2="908.5" y2="494.6" stroke="#000" stroke-width="1.3" />
<line x1="901.0" y1="464.3" x2="908.5" y2="464.3" stroke="#000" stroke-width="1.3" />
<text x="896.5" y="469.9" font-size="19" text-anchor="end" font-weight="normal" fill="#000" >100</text>
<line x1="930.0" y1="789.2" x2="930.0" y2="796.7" stroke="#000" stroke-width="1.3" />
<text x="930.0" y="816.3" font-size="19" text-anchor="middle" font-weight="normal" fill="#000" >0</text>
<line x1="953.8" y1="789.2" x2="953.8" y2="793.2" stroke="#000" stroke-width="1.3" />
<line x1="977.6" y1="789.2" x2="977.6" y2="796.7" stroke="#000" stroke-width="1.3" />
<text x="977.6" y="816.3" font-size="19" text-anchor="middle" font-weight="normal" fill="#000" >2</text>
<line x1="1001.4" y1="789.2" x2="1001.4" y2="793.2" stroke="#000" stroke-width="1.3" />
<line x1="1025.2" y1="789.2" x2="1025.2" y2="796.7" stroke="#000" stroke-width="1.3" />
<text x="1025.2" y="816.3" font-size="19" text-anchor="middle" font-weight="normal" fill="#000" >4</text>
<line x1="1049.0" y1="789.2" x2="1049.0" y2="793.2" stroke="#000" stroke-width="1.3" />
<line x1="1072.8" y1="789.2" x2="1072.8" y2="796.7" stroke="#000" stroke-width="1.3" />
<text x="1072.8" y="816.3" font-size="19" text-anchor="middle" font-weight="normal" fill="#000" >6</text>
<line x1="1096.6" y1="789.2" x2="1096.6" y2="793.2" stroke="#000" stroke-width="1.3" />
<line x1="1120.4" y1="789.2" x2="1120.4" y2="796.7" stroke="#000" stroke-width="1.3" />
<text x="1120.4" y="816.3" font-size="19" text-anchor="middle" font-weight="normal" fill="#000" >8</text>
<line x1="1144.2" y1="789.2" x2="1144.2" y2="793.2" stroke="#000" stroke-width="1.3" />
<line x1="1168.0" y1="789.2" x2="1168.0" y2="796.7" stroke="#000" stroke-width="1.3" />
<text x="1168.0" y="816.3" font-size="19" text-anchor="middle" font-weight="normal" fill="#000" >10</text>
<line x1="1191.8" y1="789.2" x2="1191.8" y2="793.2" stroke="#000" stroke-width="1.3" />
<line x1="1215.6" y1="789.2" x2="1215.6" y2="796.7" stroke="#000" stroke-width="1.3" />
<text x="1215.6" y="816.3" font-size="19" text-anchor="middle" font-weight="normal" fill="#000" >12</text>
<text transform="translate(856.4,631.3) rotate(-90)" font-size="21.9" text-anchor="middle">Composition (%)</text>
<text x="1072.7" y="841.0" font-size="21.6" text-anchor="middle" font-weight="normal" fill="#000" >Time (h)</text>
<path d="M930.0,464.3 C932.0,465.7 937.9,469.5 941.9,472.5 C945.9,475.5 949.8,479.2 953.8,482.5 C957.8,485.8 961.7,488.9 965.7,492.5 C969.7,496.1 973.6,499.2 977.6,504.3 C981.6,509.5 985.5,516.3 989.5,523.4 C993.5,530.5 997.4,539.0 1001.4,546.8 C1005.4,554.5 1009.3,561.8 1013.3,569.8 C1017.3,577.8 1021.2,585.7 1025.2,595.0 C1029.2,604.3 1033.0,615.4 1037.1,625.6 C1041.2,635.8 1045.7,647.1 1049.7,656.2 C1053.7,665.3 1057.1,673.0 1060.9,680.2 C1064.7,687.4 1068.4,693.0 1072.8,699.6 C1077.2,706.2 1082.0,713.6 1087.1,719.9 C1092.1,726.2 1097.5,732.7 1103.0,737.5 C1108.6,742.3 1113.5,745.4 1120.4,748.7 C1127.3,752.0 1136.3,755.1 1144.2,757.5 C1152.1,759.9 1160.1,761.7 1168.0,763.3 C1175.9,764.8 1183.9,765.7 1191.8,766.6 C1199.7,767.5 1211.6,768.4 1215.6,768.7" stroke="#e07048" stroke-width="2.2" fill="none" stroke-linecap="round"/>
<path d="M930.0,763.3 C932.0,762.5 937.9,760.4 941.9,758.7 C945.9,757.0 949.8,755.1 953.8,752.9 C957.8,750.8 961.7,748.4 965.7,745.7 C969.7,742.9 973.6,740.2 977.6,736.3 C981.6,732.3 985.5,727.7 989.5,722.0 C993.5,716.4 997.8,708.6 1001.4,702.3 C1005.0,696.0 1007.9,688.8 1010.9,684.1 C1013.9,679.4 1017.1,676.0 1019.2,674.1 C1021.4,672.2 1022.2,672.5 1024.0,672.6 C1025.8,672.7 1027.1,672.3 1030.0,674.7 C1032.8,677.1 1036.9,682.2 1040.9,687.2 C1044.9,692.1 1048.4,698.5 1053.8,704.4 C1059.1,710.3 1067.2,718.2 1072.8,722.6 C1078.4,727.1 1082.0,728.6 1087.1,731.1 C1092.1,733.6 1097.5,735.4 1103.0,737.5 C1108.6,739.6 1113.5,741.7 1120.4,743.9 C1127.3,746.0 1136.3,748.3 1144.2,750.2 C1152.1,752.1 1160.1,753.7 1168.0,755.1 C1175.9,756.5 1183.9,757.6 1191.8,758.7 C1199.7,759.8 1211.6,761.2 1215.6,761.7" stroke="#2e75b6" stroke-width="2.2" fill="none" stroke-linecap="round"/>
<path d="M930.0,766.9 C934.0,766.8 945.9,766.9 953.8,766.6 C961.7,766.2 971.6,765.5 977.6,764.8 C983.6,764.0 985.5,763.4 989.5,762.0 C993.5,760.7 997.4,759.4 1001.4,756.9 C1005.4,754.4 1009.3,751.7 1013.3,746.9 C1017.3,742.1 1021.2,736.0 1025.2,728.1 C1029.2,720.2 1033.1,711.0 1037.1,699.6 C1041.1,688.2 1045.0,674.3 1049.0,659.9 C1053.0,645.4 1056.9,627.8 1060.9,612.9 C1064.9,598.0 1068.8,583.4 1072.8,570.4 C1076.8,557.5 1080.7,545.2 1084.7,535.2 C1088.7,525.3 1092.6,517.5 1096.6,511.0 C1100.6,504.5 1104.5,500.0 1108.5,496.1 C1112.5,492.3 1116.4,490.0 1120.4,487.9 C1124.4,485.9 1128.3,484.8 1132.3,483.7 C1136.3,482.6 1138.2,482.2 1144.2,481.6 C1150.2,481.0 1160.1,480.4 1168.0,480.1 C1175.9,479.7 1183.9,479.6 1191.8,479.5 C1199.7,479.3 1211.6,479.2 1215.6,479.2" stroke="#4d9e85" stroke-width="2.2" fill="none" stroke-linecap="round"/>
<rect x="924.6" y="458.9" width="10.8" height="10.8" fill="none" stroke="#e07048" stroke-width="1.8"/>
<rect x="948.4" y="477.1" width="10.8" height="10.8" fill="none" stroke="#e07048" stroke-width="1.8"/>
<rect x="972.2" y="492.3" width="10.8" height="10.8" fill="none" stroke="#e07048" stroke-width="1.8"/>
<rect x="996.0" y="555.9" width="10.8" height="10.8" fill="none" stroke="#e07048" stroke-width="1.8"/>
<rect x="1019.8" y="589.3" width="10.8" height="10.8" fill="none" stroke="#e07048" stroke-width="1.8"/>
<rect x="1067.4" y="695.4" width="10.8" height="10.8" fill="none" stroke="#e07048" stroke-width="1.8"/>
<rect x="1138.8" y="759.1" width="10.8" height="10.8" fill="none" stroke="#e07048" stroke-width="1.8"/>
<rect x="1210.2" y="759.1" width="10.8" height="10.8" fill="none" stroke="#e07048" stroke-width="1.8"/>
<circle cx="930.0" cy="767.5" r="5.9" fill="none" stroke="#2e75b6" stroke-width="1.8"/>
<circle cx="953.8" cy="749.3" r="5.9" fill="none" stroke="#2e75b6" stroke-width="1.8"/>
<circle cx="977.6" cy="734.1" r="5.9" fill="none" stroke="#2e75b6" stroke-width="1.8"/>
<circle cx="1001.4" cy="697.8" r="5.9" fill="none" stroke="#2e75b6" stroke-width="1.8"/>
<circle cx="1025.2" cy="673.5" r="5.9" fill="none" stroke="#2e75b6" stroke-width="1.8"/>
<circle cx="1072.8" cy="725.1" r="5.9" fill="none" stroke="#2e75b6" stroke-width="1.8"/>
<circle cx="1144.2" cy="743.2" r="5.9" fill="none" stroke="#2e75b6" stroke-width="1.8"/>
<circle cx="1215.6" cy="764.5" r="5.9" fill="none" stroke="#2e75b6" stroke-width="1.8"/>
<polygon points="930.0,758.1 937.3,770.5 922.7,770.5" fill="none" stroke="#4d9e85" stroke-width="1.8" stroke-linejoin="miter"/>
<polygon points="953.8,758.1 961.1,770.5 946.5,770.5" fill="none" stroke="#4d9e85" stroke-width="1.8" stroke-linejoin="miter"/>
<polygon points="977.6,758.1 984.9,770.5 970.3,770.5" fill="none" stroke="#4d9e85" stroke-width="1.8" stroke-linejoin="miter"/>
<polygon points="1001.4,733.9 1008.7,746.3 994.1,746.3" fill="none" stroke="#4d9e85" stroke-width="1.8" stroke-linejoin="miter"/>
<polygon points="1025.2,724.8 1032.5,737.2 1017.9,737.2" fill="none" stroke="#4d9e85" stroke-width="1.8" stroke-linejoin="miter"/>
<polygon points="1072.8,564.1 1080.1,576.5 1065.5,576.5" fill="none" stroke="#4d9e85" stroke-width="1.8" stroke-linejoin="miter"/>
<polygon points="1144.2,482.2 1151.5,494.6 1136.9,494.6" fill="none" stroke="#4d9e85" stroke-width="1.8" stroke-linejoin="miter"/>
<polygon points="1215.6,461.0 1222.9,473.4 1208.3,473.4" fill="none" stroke="#4d9e85" stroke-width="1.8" stroke-linejoin="miter"/>
<rect x="1091.2" y="599.6" width="10.8" height="10.8" fill="none" stroke="#e07048" stroke-width="1.8"/>
<circle cx="1096.6" cy="629.3" r="5.9" fill="none" stroke="#2e75b6" stroke-width="1.8"/>
<polygon points="1096.6,644.1 1103.9,656.5 1089.3,656.5" fill="none" stroke="#4d9e85" stroke-width="1.8" stroke-linejoin="miter"/>
<text x="1116.8" y="610.6" font-size="20.2" text-anchor="start" font-weight="normal" fill="#000" >Substrate</text>
<text x="1116.8" y="634.9" font-size="20.2" text-anchor="start" font-weight="normal" fill="#000" >Intermediate</text>
<text x="1116.8" y="658.8" font-size="20.2" text-anchor="start" font-weight="normal" fill="#000" >Product</text>
<text x="31.0" y="872.5" font-size="30.5" text-anchor="start" font-weight="bold" fill="#000" >d</text>
<rect x="70.6" y="864.3" width="607.4" height="397.6" fill="url(#gD)"/>
<rect x="70.6" y="864.3" width="607.4" height="397.6" fill="none" stroke="#383434" stroke-width="1.7" stroke-dasharray="5.2,3.3"/>
<path d="M116.7,901.7 L147,884 L167.2,896.6" stroke="#1a1a1a" stroke-width="1.4" fill="none" />
<text x="166.3" y="910.2" font-size="23.3" text-anchor="start" font-weight="normal" fill="#000" >OH</text>
<line x1="142.6" y1="933.2" x2="166.6" y2="933.2" stroke="#1a1a1a" stroke-width="1.6" />
<line x1="154.6" y1="921.2" x2="154.6" y2="945.2" stroke="#1a1a1a" stroke-width="1.6" />
<path d="M134.9,971.0 L152.0,957.7 L170.9,966.5 L175.5,988.2 L157.6,1001.3 L136.9,992.5 Z" stroke="#1a1a1a" stroke-width="1.2" fill="none" stroke-linejoin="round"/>
<line x1="139.6" y1="971.7" x2="151.4" y2="962.5" stroke="#1a1a1a" stroke-width="1.2" />
<line x1="168.3" y1="970.3" x2="171.4" y2="985.2" stroke="#1a1a1a" stroke-width="1.2" />
<line x1="155.7" y1="996.8" x2="141.4" y2="990.7" stroke="#1a1a1a" stroke-width="1.2" />
<path d="M170.9,966.5 L191.1,953.4 L205,959.7" stroke="#1a1a1a" stroke-width="1.2" fill="none" />
<text x="206.0" y="968.0" font-size="14.8" text-anchor="start" font-weight="normal" fill="#000" >OH</text>
<line x1="136.9" y1="992.5" x2="120.5" y2="1003.3" stroke="#1a1a1a" stroke-width="1.2" />
<text x="91.3" y="1012.6" font-size="14.8" text-anchor="start" font-weight="normal" fill="#000" >NO<tspan dy="3.0" font-size="10.7">2</tspan><tspan dy="-3.0" font-size="14.8">&#8203;</tspan></text>
<line x1="264.5" y1="956.5" x2="450.0" y2="956.5" stroke="#333" stroke-width="2.6" />
<path d="M436.1,964.0 L451.3,956.5 L436.1,949.0" stroke="#333" stroke-width="2.6" fill="none" stroke-linejoin="miter" stroke-miterlimit="10" stroke-linecap="butt"/>
<text x="291.7" y="943.8" font-size="21.9" text-anchor="start" font-weight="normal" fill="#000" >C-D3T2</text>
<path d="M384.15,932.19 H374.95 A5.91,5.91 0 0 0 374.95,944.02 H384.15" stroke="#000" stroke-width="1.8615" fill="none" />
<text x="384.8" y="943.8" font-size="21.9" text-anchor="start" font-weight="normal" fill="#000" >PbI</text>
<text x="355.0" y="985.4" font-size="21.9" text-anchor="middle" font-weight="normal" fill="#000" >White light, RT</text>
<path d="M505.0,956.4 L523.7,941.6 L545.8,951.5 L548.6,974.7 L528.8,989.0 L507.2,979.7 Z" stroke="#1a1a1a" stroke-width="1.2" fill="none" stroke-linejoin="round"/>
<line x1="510.1" y1="957.1" x2="523.0" y2="946.9" stroke="#1a1a1a" stroke-width="1.2" />
<line x1="542.5" y1="955.5" x2="544.4" y2="971.5" stroke="#1a1a1a" stroke-width="1.2" />
<line x1="527.0" y1="984.2" x2="512.1" y2="977.8" stroke="#1a1a1a" stroke-width="1.2" />
<line x1="507.2" y1="979.7" x2="489.8" y2="992.8" stroke="#1a1a1a" stroke-width="1.2" />
<text x="457.3" y="1001.9" font-size="16.4" text-anchor="start" font-weight="normal" fill="#000" >NO<tspan dy="3.3" font-size="12.5">2</tspan><tspan dy="-3.3" font-size="16.4">&#8203;</tspan></text>
<line x1="545.8" y1="951.5" x2="564.5" y2="937.8" stroke="#1a1a1a" stroke-width="1.2" />
<line x1="564.5" y1="937.8" x2="564.5" y2="921.5" stroke="#1a1a1a" stroke-width="1.2" />
<text x="564.5" y="919.3" font-size="16" text-anchor="middle" font-weight="normal" fill="#000" >O</text>
<path d="M570,907.8 L582.8,895.2 L588.8,871" stroke="#1a1a1a" stroke-width="1.2" fill="none" />
<line x1="564.5" y1="937.8" x2="582.2" y2="942.7" stroke="#1a1a1a" stroke-width="1.2" />
<text x="588.8" y="950.7" font-size="16" text-anchor="middle" font-weight="normal" fill="#000" >O</text>
<path d="M595.4,940.9 L610.2,931.6 L635.8,931.6" stroke="#1a1a1a" stroke-width="1.2" fill="none" />
<path d="M128.1,1016.9 L128.1,1095.3 L278.5,1095.5" stroke="#333" stroke-width="2.6" fill="none" stroke-linejoin="miter"/>
<path d="M264.8,1102.7 L279.6,1095.5 L264.8,1088.3" stroke="#333" stroke-width="2.6" fill="none" stroke-linejoin="miter" stroke-miterlimit="10" stroke-linecap="butt"/>
<path d="M172.7,1029.0 H227.5 V1083.5 H172.7 Z M186.6,1041.7 V1069.7 H212.8 V1041.7 Z" fill="#8ac1ae" fill-rule="evenodd"/>
<use href="#oc5" transform="translate(176.9,1033.3) scale(3.86,3.83)"/>
<use href="#oc5" transform="translate(192.4,1033.3) scale(3.86,3.83)"/>
<use href="#oc5" transform="translate(207.8,1033.3) scale(3.86,3.83)"/>
<use href="#oc5" transform="translate(223.3,1033.3) scale(3.86,3.83)"/>
<use href="#oc5" transform="translate(176.9,1048.6) scale(3.86,3.83)"/>
<use href="#oc5" transform="translate(223.3,1048.6) scale(3.86,3.83)"/>
<use href="#oc5" transform="translate(176.9,1063.9) scale(3.86,3.83)"/>
<use href="#oc5" transform="translate(223.3,1063.9) scale(3.86,3.83)"/>
<use href="#oc5" transform="translate(176.9,1079.2) scale(3.86,3.83)"/>
<use href="#oc5" transform="translate(192.4,1079.2) scale(3.86,3.83)"/>
<use href="#oc5" transform="translate(207.8,1079.2) scale(3.86,3.83)"/>
<use href="#oc5" transform="translate(223.3,1079.2) scale(3.86,3.83)"/>
<use href="#oc6" transform="translate(173.1,1029.4) scale(4.33,4.29)"/>
<use href="#oc6" transform="translate(180.8,1029.4) scale(4.33,4.29)"/>
<use href="#oc6" transform="translate(188.5,1029.4) scale(4.33,4.29)"/>
<use href="#oc6" transform="translate(196.2,1029.4) scale(4.33,4.29)"/>
<use href="#oc6" transform="translate(204.0,1029.4) scale(4.33,4.29)"/>
<use href="#oc6" transform="translate(211.7,1029.4) scale(4.33,4.29)"/>
<use href="#oc6" transform="translate(219.4,1029.4) scale(4.33,4.29)"/>
<use href="#oc6" transform="translate(227.1,1029.4) scale(4.33,4.29)"/>
<use href="#oc6" transform="translate(173.1,1037.1) scale(4.33,4.29)"/>
<use href="#oc6" transform="translate(180.8,1037.1) scale(4.33,4.29)"/>
<use href="#oc6" transform="translate(188.5,1037.1) scale(4.33,4.29)"/>
<use href="#oc6" transform="translate(196.2,1037.1) scale(4.33,4.29)"/>
<use href="#oc6" transform="translate(204.0,1037.1) scale(4.33,4.29)"/>
<use href="#oc6" transform="translate(211.7,1037.1) scale(4.33,4.29)"/>
<use href="#oc6" transform="translate(219.4,1037.1) scale(4.33,4.29)"/>
<use href="#oc6" transform="translate(227.1,1037.1) scale(4.33,4.29)"/>
<use href="#oc6" transform="translate(173.1,1044.8) scale(4.33,4.29)"/>
<use href="#oc6" transform="translate(180.8,1044.8) scale(4.33,4.29)"/>
<use href="#oc6" transform="translate(219.4,1044.8) scale(4.33,4.29)"/>
<use href="#oc6" transform="translate(227.1,1044.8) scale(4.33,4.29)"/>
<use href="#oc6" transform="translate(173.1,1052.4) scale(4.33,4.29)"/>
<use href="#oc6" transform="translate(180.8,1052.4) scale(4.33,4.29)"/>
<use href="#oc6" transform="translate(219.4,1052.4) scale(4.33,4.29)"/>
<use href="#oc6" transform="translate(227.1,1052.4) scale(4.33,4.29)"/>
<use href="#oc6" transform="translate(173.1,1060.1) scale(4.33,4.29)"/>
<use href="#oc6" transform="translate(180.8,1060.1) scale(4.33,4.29)"/>
<use href="#oc6" transform="translate(219.4,1060.1) scale(4.33,4.29)"/>
<use href="#oc6" transform="translate(227.1,1060.1) scale(4.33,4.29)"/>
<use href="#oc6" transform="translate(173.1,1067.7) scale(4.33,4.29)"/>
<use href="#oc6" transform="translate(180.8,1067.7) scale(4.33,4.29)"/>
<use href="#oc6" transform="translate(219.4,1067.7) scale(4.33,4.29)"/>
<use href="#oc6" transform="translate(227.1,1067.7) scale(4.33,4.29)"/>
<use href="#oc6" transform="translate(173.1,1075.4) scale(4.33,4.29)"/>
<use href="#oc6" transform="translate(180.8,1075.4) scale(4.33,4.29)"/>
<use href="#oc6" transform="translate(188.5,1075.4) scale(4.33,4.29)"/>
<use href="#oc6" transform="translate(196.2,1075.4) scale(4.33,4.29)"/>
<use href="#oc6" transform="translate(204.0,1075.4) scale(4.33,4.29)"/>
<use href="#oc6" transform="translate(211.7,1075.4) scale(4.33,4.29)"/>
<use href="#oc6" transform="translate(219.4,1075.4) scale(4.33,4.29)"/>
<use href="#oc6" transform="translate(227.1,1075.4) scale(4.33,4.29)"/>
<use href="#oc6" transform="translate(173.1,1083.1) scale(4.33,4.29)"/>
<use href="#oc6" transform="translate(180.8,1083.1) scale(4.33,4.29)"/>
<use href="#oc6" transform="translate(188.5,1083.1) scale(4.33,4.29)"/>
<use href="#oc6" transform="translate(196.2,1083.1) scale(4.33,4.29)"/>
<use href="#oc6" transform="translate(204.0,1083.1) scale(4.33,4.29)"/>
<use href="#oc6" transform="translate(211.7,1083.1) scale(4.33,4.29)"/>
<use href="#oc6" transform="translate(219.4,1083.1) scale(4.33,4.29)"/>
<use href="#oc6" transform="translate(227.1,1083.1) scale(4.33,4.29)"/>
<text x="201.8" y="1120.9" font-size="20" text-anchor="middle" font-weight="normal" fill="#000" >Outer cluster sites</text>
<text x="294.7" y="1126.4" font-size="15.7" text-anchor="start" font-weight="normal" fill="#000" >NO<tspan dy="3.1" font-size="11.9">2</tspan><tspan dy="-3.1" font-size="15.7">&#8203;</tspan></text>
<line x1="324.3" y1="1117.4" x2="339.6" y2="1106.6" stroke="#1a1a1a" stroke-width="1.2" />
<path d="M339.6,1106.6 L337.9,1083.5 L356.8,1070.6 L377.6,1079.5 L379.3,1102.7 L360.4,1115.2 Z" stroke="#1a1a1a" stroke-width="1.2" fill="none" stroke-linejoin="round"/>
<line x1="342.9" y1="1102.6" x2="341.7" y2="1086.7" stroke="#1a1a1a" stroke-width="1.2" />
<line x1="358.5" y1="1075.2" x2="372.8" y2="1081.3" stroke="#1a1a1a" stroke-width="1.2" />
<line x1="374.3" y1="1101.8" x2="361.3" y2="1110.4" stroke="#1a1a1a" stroke-width="1.2" />
<line x1="377.6" y1="1079.5" x2="394.2" y2="1066.9" stroke="#1a1a1a" stroke-width="1.2" />
<line x1="394.2" y1="1066.9" x2="408.2" y2="1073.8" stroke="#1a1a1a" stroke-width="1.2" />
<line x1="395.6" y1="1064.0" x2="409.6" y2="1070.9" stroke="#1a1a1a" stroke-width="1.2" />
<text x="414.0" y="1083.5" font-size="16" text-anchor="middle" font-weight="normal" fill="#000" >O</text>
<path d="M416.4,1095.6 L564.6,1096.5 L564.6,1025.5" stroke="#333" stroke-width="2.6" fill="none" stroke-linejoin="miter"/>
<path d="M571.8,1039.1 L564.6,1024.3 L557.4,1039.1" stroke="#333" stroke-width="2.6" fill="none" stroke-linejoin="miter" stroke-miterlimit="10" stroke-linecap="butt"/>
<path d="M482.87,1029.98 L495.13,1029.98" stroke="#f09a86" stroke-width="2.77" fill="none" stroke-linecap="round" stroke-linejoin="round"/>
<path d="M482.87,1083.02 L495.13,1083.02" stroke="#f09a86" stroke-width="2.77" fill="none" stroke-linecap="round" stroke-linejoin="round"/>
<path d="M482.87,1029.98 L470.08,1040.91 L470.08,1046.24" stroke="#f09a86" stroke-width="2.77" fill="none" stroke-linecap="round" stroke-linejoin="round"/>
<path d="M495.13,1029.98 L507.65,1041.18 L507.65,1046.24" stroke="#f09a86" stroke-width="2.77" fill="none" stroke-linecap="round" stroke-linejoin="round"/>
<path d="M470.08,1066.49 L470.08,1070.76 L482.87,1083.02" stroke="#f09a86" stroke-width="2.77" fill="none" stroke-linecap="round" stroke-linejoin="round"/>
<path d="M507.65,1066.49 L507.65,1070.76 L495.13,1083.02" stroke="#f09a86" stroke-width="2.77" fill="none" stroke-linecap="round" stroke-linejoin="round"/>
<path d="M489.27,1029.98 L489.27,1046.51" stroke="#f09a86" stroke-width="2.77" fill="none" stroke-linecap="round" stroke-linejoin="round"/>
<path d="M489.27,1068.52 L489.27,1084.61" stroke="#f09a86" stroke-width="2.77" fill="none" stroke-linecap="round" stroke-linejoin="round"/>
<polygon points="470.1,1046.2 475.9,1051.3 475.9,1060.6 470.1,1066.5 464.2,1062.0 464.2,1051.3" fill="#cf7a67" stroke="#f2a18e" stroke-width="0.8527567567567567" stroke-linejoin="round"/>
<polygon points="507.7,1046.2 513.5,1051.3 513.5,1061.4 507.7,1066.5 502.0,1060.9 502.0,1050.8" fill="#de8874" stroke="#f2a18e" stroke-width="0.8527567567567567" stroke-linejoin="round"/>
<polygon points="489.3,1046.5 499.6,1051.7 499.6,1063.0 489.3,1068.5 479.4,1063.0 479.4,1051.7" fill="#eb937f" stroke="#f2a18e" stroke-width="0.8527567567567567" stroke-linejoin="round"/>
<line x1="489.27" y1="1033.45" x2="489.27" y2="1035.85" stroke="#ea3c2f" stroke-width="4.16" stroke-linecap="round"/>
<line x1="489.27" y1="1077.69" x2="489.27" y2="1080.62" stroke="#ea3c2f" stroke-width="4.16" stroke-linecap="round"/>
<line x1="475.04" y1="1036.59" x2="477.06" y2="1034.89" stroke="#ea3c2f" stroke-width="4.16" stroke-linecap="round"/>
<line x1="500.62" y1="1034.89" x2="502.54" y2="1036.59" stroke="#ea3c2f" stroke-width="4.16" stroke-linecap="round"/>
<line x1="475.04" y1="1075.55" x2="477.06" y2="1077.47" stroke="#ea3c2f" stroke-width="4.16" stroke-linecap="round"/>
<line x1="500.73" y1="1077.69" x2="502.64" y2="1075.66" stroke="#ea3c2f" stroke-width="4.16" stroke-linecap="round"/>
<text x="491.3" y="1121.9" font-size="20" text-anchor="middle" font-weight="normal" fill="#000" >Inner cage sites</text>
<line x1="555.6" y1="1057.9" x2="573.6" y2="1075.9" stroke="#f0464c" stroke-width="3" />
<line x1="573.6" y1="1057.9" x2="555.6" y2="1075.9" stroke="#f0464c" stroke-width="3" />
<path d="M587.1,1069.6 L614.3,1053.7 L633.5,1064.6" stroke="#1a1a1a" stroke-width="1.4" fill="none" />
<text x="633.0" y="1077.8" font-size="21.5" text-anchor="start" font-weight="normal" fill="#000" >OH</text>
<line x1="349.2" y1="1133.3" x2="349.2" y2="1197.0" stroke="#333" stroke-width="2.6" />
<path d="M342.0,1183.0 L349.2,1197.8 L356.4,1183.0" stroke="#333" stroke-width="2.6" fill="none" stroke-linejoin="miter" stroke-miterlimit="10" stroke-linecap="butt"/>
<text x="250.2" y="1157.5" font-size="20" text-anchor="middle" font-weight="normal" fill="#000" >Aniline as a</text>
<text x="250.3" y="1181.5" font-size="20" text-anchor="middle" font-weight="normal" fill="#000" >competing inhibitor</text>
<path d="M368.7,1162.2 L386.6,1149.7 L407.4,1159.6 L409.7,1182.1 L390.9,1193.7 L371.0,1183.8 Z" stroke="#1a1a1a" stroke-width="1.2" fill="none" stroke-linejoin="round"/>
<line x1="373.5" y1="1163.1" x2="385.9" y2="1154.5" stroke="#1a1a1a" stroke-width="1.2" />
<line x1="404.2" y1="1163.3" x2="405.8" y2="1178.8" stroke="#1a1a1a" stroke-width="1.2" />
<line x1="389.3" y1="1189.1" x2="375.6" y2="1182.3" stroke="#1a1a1a" stroke-width="1.2" />
<line x1="407.4" y1="1159.6" x2="419.0" y2="1150.7" stroke="#1a1a1a" stroke-width="1.2" />
<text x="419.7" y="1151.7" font-size="14.8" text-anchor="start" font-weight="normal" fill="#000" >NH<tspan dy="3.0" font-size="10.7">2</tspan><tspan dy="-3.0" font-size="14.8">&#8203;</tspan></text>
<text x="243.6" y="1231.9" font-size="14.8" text-anchor="start" font-weight="normal" fill="#000" >NO<tspan dy="3.0" font-size="10.7">2</tspan><tspan dy="-3.0" font-size="14.8">&#8203;</tspan></text>
<line x1="272.6" y1="1224.2" x2="291.6" y2="1221.8" stroke="#1a1a1a" stroke-width="1.2" />
<path d="M291.6,1221.8 L299.9,1205.3 L321.4,1203.6 L333.0,1219.2 L323.0,1238.4 L304.8,1240.0 Z" stroke="#1a1a1a" stroke-width="1.2" fill="none" stroke-linejoin="round"/>
<line x1="295.9" y1="1220.6" x2="301.6" y2="1209.3" stroke="#1a1a1a" stroke-width="1.2" />
<line x1="320.5" y1="1207.8" x2="328.5" y2="1218.6" stroke="#1a1a1a" stroke-width="1.2" />
<line x1="319.9" y1="1235.4" x2="307.3" y2="1236.5" stroke="#1a1a1a" stroke-width="1.2" />
<line x1="333.0" y1="1219.2" x2="356.1" y2="1216.9" stroke="#1a1a1a" stroke-width="1.2" />
<line x1="356.1" y1="1216.9" x2="363.9" y2="1227.8" stroke="#1a1a1a" stroke-width="1.2" />
<line x1="358.9" y1="1214.7" x2="366.9" y2="1225.8" stroke="#1a1a1a" stroke-width="1.2" />
<text x="366.7" y="1242.0" font-size="15" text-anchor="middle" font-weight="normal" fill="#000" >N</text>
<line x1="374.3" y1="1235.1" x2="389.2" y2="1234.4" stroke="#1a1a1a" stroke-width="1.2" />
<path d="M389.2,1234.4 L399.8,1215.9 L420.7,1211.9 L433.2,1230.1 L423.0,1250.0 L401.8,1253.3 Z" stroke="#1a1a1a" stroke-width="1.2" fill="none" stroke-linejoin="round"/>
<line x1="393.9" y1="1232.9" x2="401.2" y2="1220.1" stroke="#1a1a1a" stroke-width="1.2" />
<line x1="419.8" y1="1216.8" x2="428.4" y2="1229.4" stroke="#1a1a1a" stroke-width="1.2" />
<line x1="419.5" y1="1247.1" x2="404.9" y2="1249.4" stroke="#1a1a1a" stroke-width="1.2" />
<text x="719.0" y="871.5" font-size="30.5" text-anchor="start" font-weight="bold" fill="#000" >e</text>
<rect x="785.8" y="868.3" width="452.2" height="344.5" fill="#fff" stroke="#000" stroke-width="1.4"/>
<line x1="778.3" y1="1183.1" x2="785.8" y2="1183.1" stroke="#000" stroke-width="1.3" />
<text x="773.8" y="1189.9" font-size="19" text-anchor="end" font-weight="normal" fill="#000" >20</text>
<line x1="781.8" y1="1146.8" x2="785.8" y2="1146.8" stroke="#000" stroke-width="1.3" />
<line x1="778.3" y1="1110.5" x2="785.8" y2="1110.5" stroke="#000" stroke-width="1.3" />
<text x="773.8" y="1117.3" font-size="19" text-anchor="end" font-weight="normal" fill="#000" >40</text>
<line x1="781.8" y1="1074.2" x2="785.8" y2="1074.2" stroke="#000" stroke-width="1.3" />
<line x1="778.3" y1="1037.8" x2="785.8" y2="1037.8" stroke="#000" stroke-width="1.3" />
<text x="773.8" y="1044.6" font-size="19" text-anchor="end" font-weight="normal" fill="#000" >60</text>
<line x1="781.8" y1="1001.5" x2="785.8" y2="1001.5" stroke="#000" stroke-width="1.3" />
<line x1="778.3" y1="965.2" x2="785.8" y2="965.2" stroke="#000" stroke-width="1.3" />
<text x="773.8" y="972.0" font-size="19" text-anchor="end" font-weight="normal" fill="#000" >80</text>
<line x1="781.8" y1="928.8" x2="785.8" y2="928.8" stroke="#000" stroke-width="1.3" />
<line x1="778.3" y1="892.5" x2="785.8" y2="892.5" stroke="#000" stroke-width="1.3" />
<text x="773.8" y="899.3" font-size="19" text-anchor="end" font-weight="normal" fill="#000" >100</text>
<line x1="810.9" y1="1212.8" x2="810.9" y2="1220.3" stroke="#000" stroke-width="1.3" />
<text x="810.9" y="1239.8" font-size="19" text-anchor="middle" font-weight="normal" fill="#000" >0</text>
<line x1="861.1" y1="1212.8" x2="861.1" y2="1216.8" stroke="#000" stroke-width="1.3" />
<line x1="911.4" y1="1212.8" x2="911.4" y2="1220.3" stroke="#000" stroke-width="1.3" />
<text x="911.4" y="1239.8" font-size="19" text-anchor="middle" font-weight="normal" fill="#000" >10</text>
<line x1="961.6" y1="1212.8" x2="961.6" y2="1216.8" stroke="#000" stroke-width="1.3" />
<line x1="1011.9" y1="1212.8" x2="1011.9" y2="1220.3" stroke="#000" stroke-width="1.3" />
<text x="1011.9" y="1239.8" font-size="19" text-anchor="middle" font-weight="normal" fill="#000" >20</text>
<line x1="1062.2" y1="1212.8" x2="1062.2" y2="1216.8" stroke="#000" stroke-width="1.3" />
<line x1="1112.4" y1="1212.8" x2="1112.4" y2="1220.3" stroke="#000" stroke-width="1.3" />
<text x="1112.4" y="1239.8" font-size="19" text-anchor="middle" font-weight="normal" fill="#000" >30</text>
<line x1="1162.7" y1="1212.8" x2="1162.7" y2="1216.8" stroke="#000" stroke-width="1.3" />
<line x1="1212.9" y1="1212.8" x2="1212.9" y2="1220.3" stroke="#000" stroke-width="1.3" />
<text x="1212.9" y="1239.8" font-size="19" text-anchor="middle" font-weight="normal" fill="#000" >40</text>
<text transform="translate(734.1,1054.2) rotate(-90)" font-size="21.9" text-anchor="middle">Residual activity (%)</text>
<text x="1012.8" y="1264.6" font-size="21.8" text-anchor="middle" font-weight="normal" fill="#000" >Inhibitor amount (mM)</text>
<path d="M810.9,892.5 C814.2,894.0 824.3,898.7 831.0,901.6 C837.7,904.6 844.4,907.5 851.1,910.3 C857.8,913.2 864.5,915.9 871.2,918.6 C877.9,921.3 884.6,923.9 891.3,926.5 C898.0,929.0 904.7,931.5 911.4,933.9 C918.1,936.4 924.8,938.8 931.5,941.1 C938.2,943.4 944.9,945.6 951.6,947.8 C958.3,950.0 965.0,952.2 971.7,954.3 C978.4,956.4 985.1,958.4 991.8,960.4 C998.5,962.4 1005.2,964.4 1011.9,966.3 C1018.6,968.2 1025.3,970.0 1032.0,971.8 C1038.7,973.6 1045.4,975.4 1052.1,977.1 C1058.8,978.8 1065.5,980.5 1072.2,982.1 C1078.9,983.8 1085.6,985.4 1092.3,986.9 C1099.0,988.5 1105.7,990.0 1112.4,991.5 C1119.1,992.9 1125.8,994.4 1132.5,995.8 C1139.2,997.2 1145.9,998.6 1152.6,999.9 C1159.3,1001.3 1166.0,1002.6 1172.7,1003.8 C1179.4,1005.1 1186.1,1006.4 1192.8,1007.6 C1199.5,1008.8 1209.6,1010.5 1212.9,1011.1" stroke="#e0714a" stroke-width="2.2" fill="none" />
<path d="M810.9,892.5 C814.2,897.5 824.3,913.0 831.0,922.6 C837.7,932.2 844.4,941.3 851.1,950.0 C857.8,958.7 864.5,966.9 871.2,974.8 C877.9,982.7 884.6,990.2 891.3,997.4 C898.0,1004.6 904.7,1011.4 911.4,1017.9 C918.1,1024.5 924.8,1030.7 931.5,1036.6 C938.2,1042.5 944.9,1048.2 951.6,1053.6 C958.3,1058.9 965.0,1064.1 971.7,1069.0 C978.4,1073.9 985.1,1078.5 991.8,1083.0 C998.5,1087.4 1005.2,1091.6 1011.9,1095.7 C1018.6,1099.7 1025.3,1103.6 1032.0,1107.2 C1038.7,1110.9 1045.4,1114.4 1052.1,1117.8 C1058.8,1121.1 1065.5,1124.3 1072.2,1127.3 C1078.9,1130.3 1085.6,1133.2 1092.3,1136.0 C1099.0,1138.7 1105.7,1141.4 1112.4,1143.9 C1119.1,1146.4 1125.8,1148.7 1132.5,1151.0 C1139.2,1153.3 1145.9,1155.5 1152.6,1157.5 C1159.3,1159.6 1166.0,1161.6 1172.7,1163.5 C1179.4,1165.3 1186.1,1167.1 1192.8,1168.8 C1199.5,1170.5 1209.6,1172.9 1212.9,1173.7" stroke="#2f7ab8" stroke-width="2.2" fill="none" />
<circle cx="810.9" cy="892.5" r="5.6" fill="#e0714a"/>
<circle cx="911.4" cy="925.2" r="5.6" fill="#e0714a"/>
<circle cx="1011.9" cy="972.4" r="5.6" fill="#e0714a"/>
<circle cx="1112.4" cy="987.0" r="5.6" fill="#e0714a"/>
<circle cx="1212.9" cy="1008.8" r="5.6" fill="#e0714a"/>
<circle cx="810.9" cy="892.5" r="5.6" fill="#2f7ab8"/>
<circle cx="911.4" cy="1019.7" r="5.6" fill="#2f7ab8"/>
<circle cx="1011.9" cy="1106.8" r="5.6" fill="#2f7ab8"/>
<circle cx="1112.4" cy="1128.6" r="5.6" fill="#2f7ab8"/>
<circle cx="1212.9" cy="1179.5" r="5.6" fill="#2f7ab8"/>
<text x="1166.1" y="970.0" font-size="20.3" text-anchor="middle" font-weight="normal" fill="#e0714a" >Channelled</text>
<text x="1167.3" y="1110.6" font-size="20.3" text-anchor="middle" font-weight="normal" fill="#2f7ab8" >Free diffusion</text>
<text x="1002.1" y="1044.2" font-size="20" text-anchor="start" font-weight="normal" fill="#000" >C-D3T2</text>
<path d="M1085.90,1036.80 H1078.30 A3.80,3.80 0 0 0 1078.30,1044.40 H1085.90" stroke="#000" stroke-width="1.1" fill="none" />
<text x="1087.1" y="1044.2" font-size="20" text-anchor="start" font-weight="normal" fill="#000" >PbI</text>
<text x="899.2" y="1132.0" font-size="20.2" text-anchor="middle" font-weight="normal" fill="#000" >Physical mixture of</text>
<text x="799.1" y="1155.8" font-size="20.1" text-anchor="start" font-weight="normal" fill="#000" >C-D3T2+R-D3T2</text>
<path d="M965.48,1148.36 H957.84 A3.82,3.82 0 0 0 957.84,1156.00 H965.48" stroke="#000" stroke-width="1.1055000000000001" fill="none" />
<text x="966.7" y="1155.8" font-size="20.1" text-anchor="start" font-weight="normal" fill="#000" >PbI</text>
<line x1="1051.0" y1="988.5" x2="1034.4" y2="1013.8" stroke="#222" stroke-width="2.5" />
<path d="M1035.7,1000.3 L1034.5,1013.8 L1046.3,1007.3" stroke="#222" stroke-width="2.5" fill="none" stroke-linejoin="miter" stroke-miterlimit="10" stroke-linecap="butt"/>
<line x1="950.0" y1="1076.0" x2="933.4" y2="1101.8" stroke="#222" stroke-width="2.5" />
<path d="M934.6,1088.3 L933.4,1101.8 L945.2,1095.2" stroke="#222" stroke-width="2.5" fill="none" stroke-linejoin="miter" stroke-miterlimit="10" stroke-linecap="butt"/>
<rect x="0" y="1293" width="1269" height="1" fill="#000"/>
</svg>
</body></html>
